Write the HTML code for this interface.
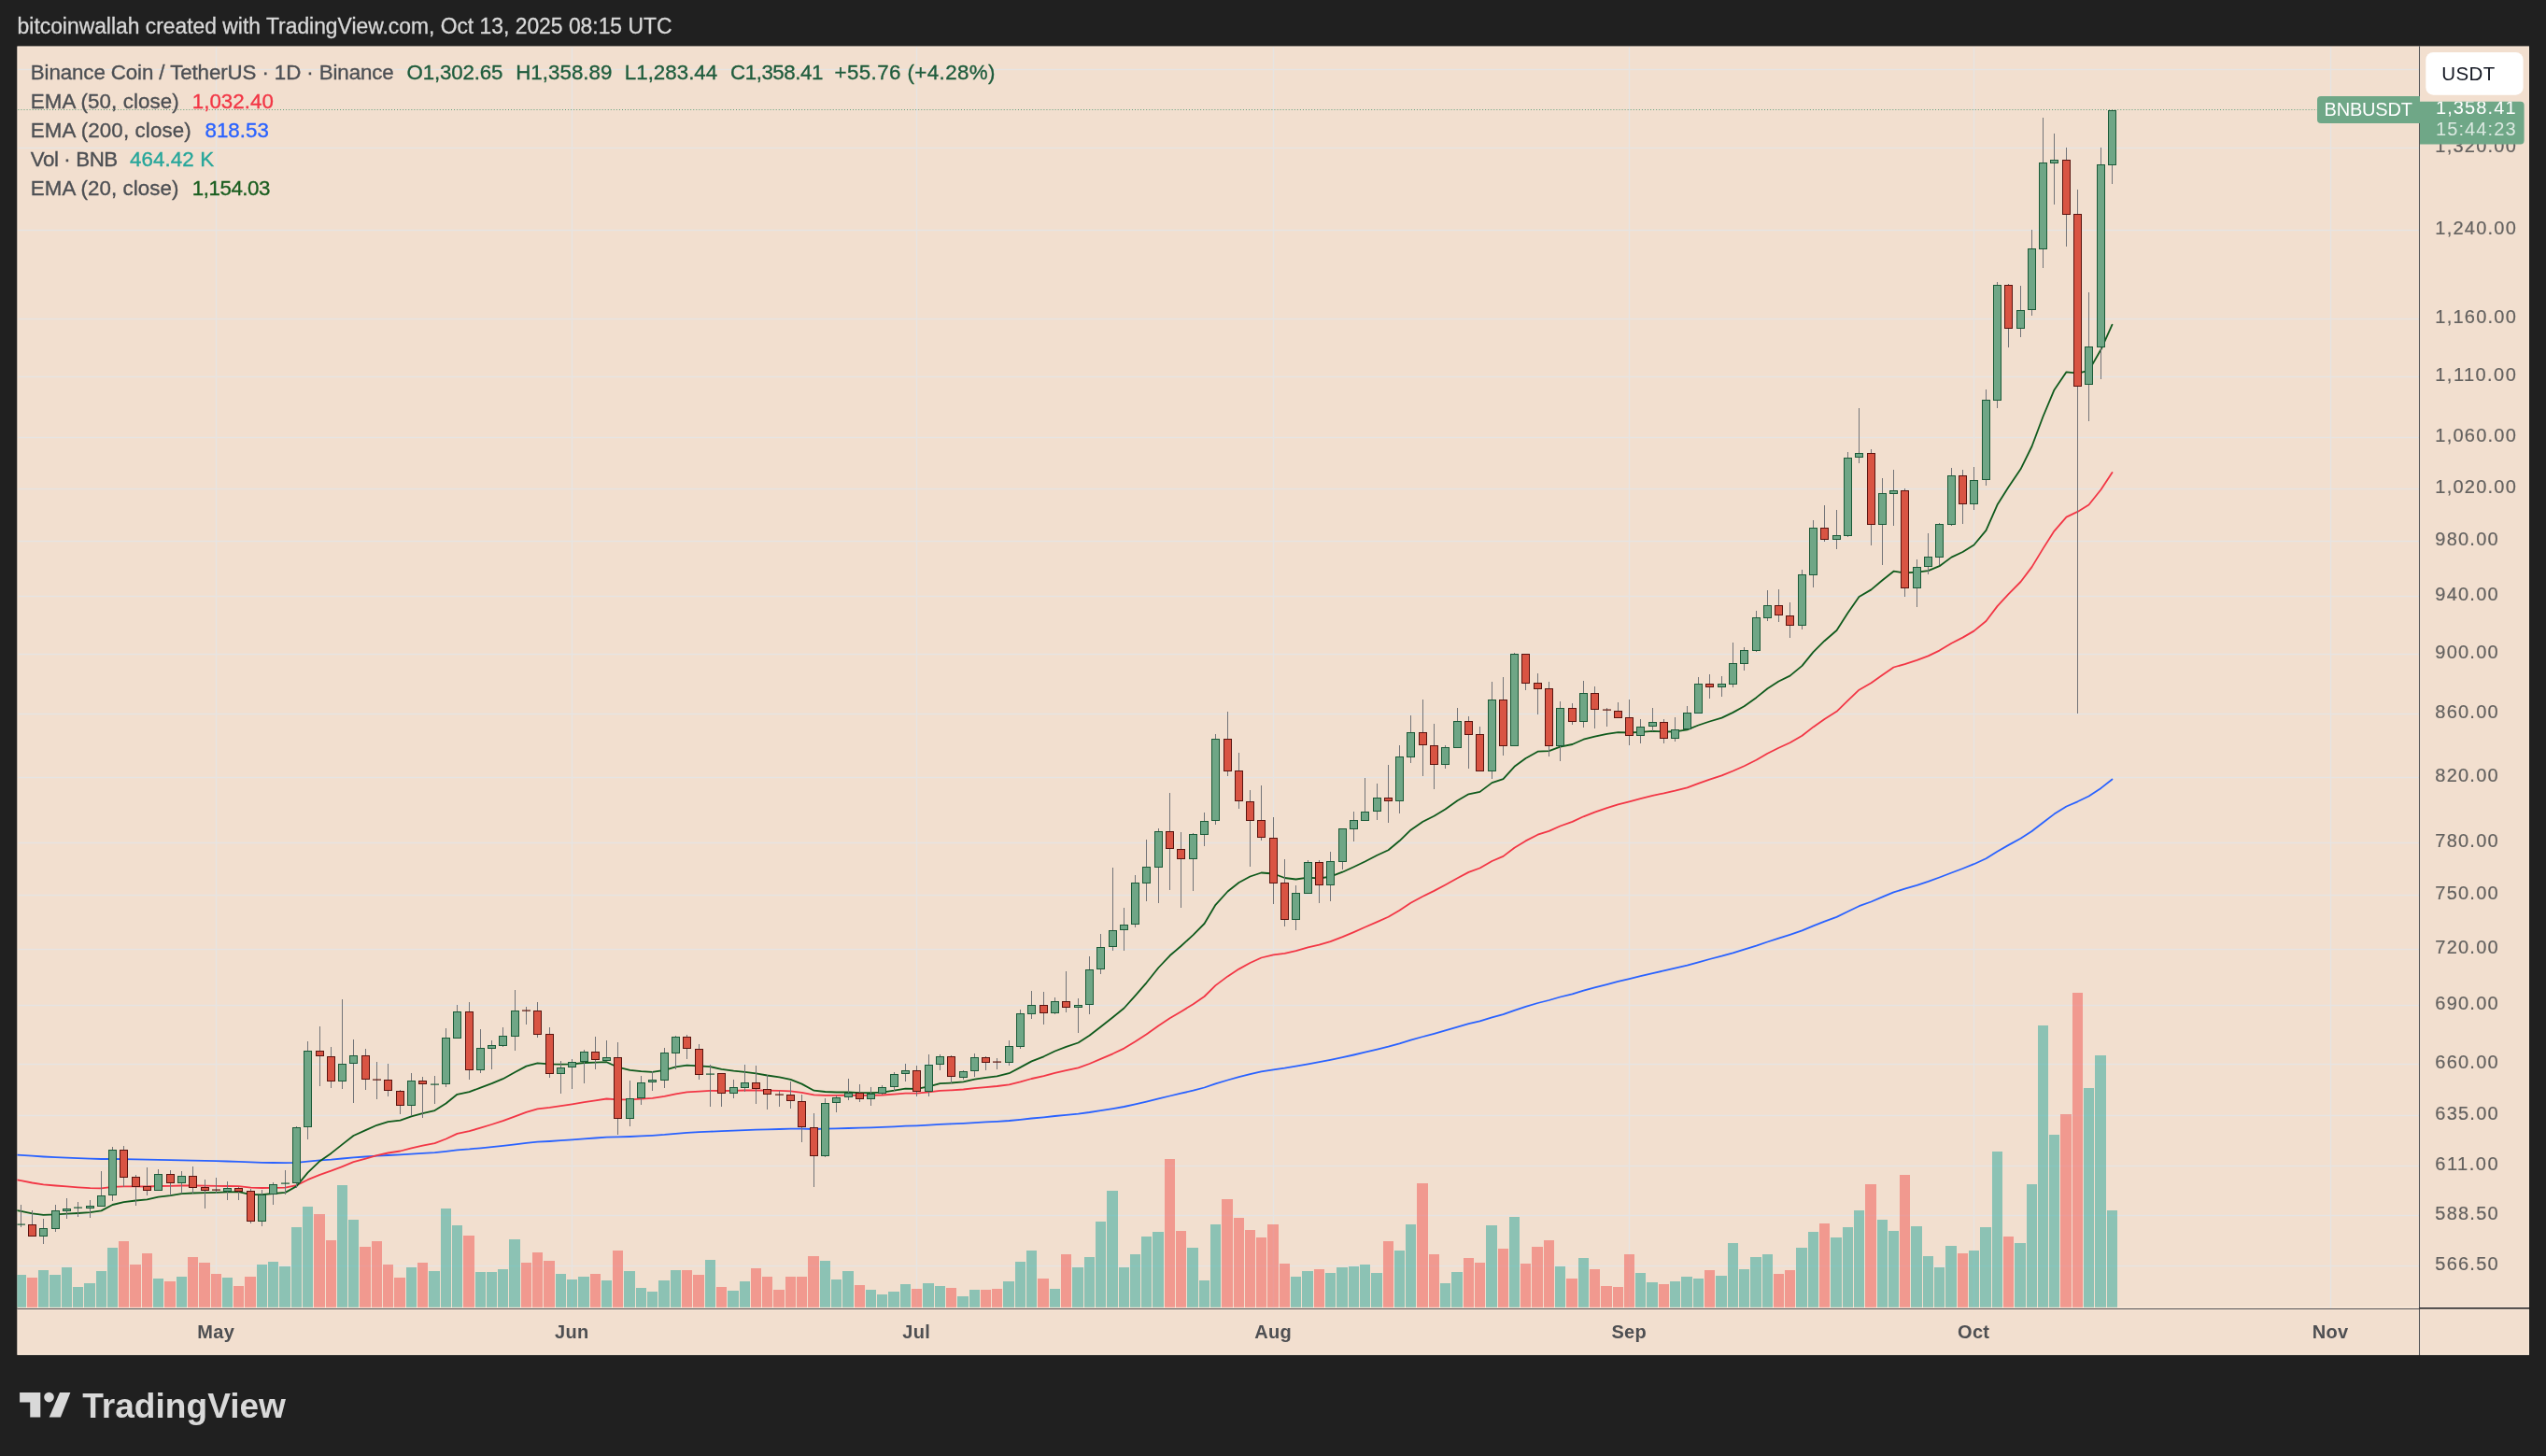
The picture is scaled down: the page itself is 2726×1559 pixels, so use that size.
<!DOCTYPE html><html><head><meta charset="utf-8"><title>BNBUSDT chart</title><style>html,body{margin:0;padding:0;background:#202020;}body{width:2726px;height:1559px;overflow:hidden}</style></head><body><svg width="2726" height="1559" viewBox="0 0 2726 1559" style="display:block;will-change:transform">
<rect width="2726" height="1559" fill="#202020"/>
<g>
<text x="18.6" y="36" font-family="Liberation Sans, sans-serif" font-size="23" fill="#d8d8d8" stroke="#d8d8d8" stroke-width="0.3" textLength="700.8" lengthAdjust="spacingAndGlyphs">bitcoinwallah created with TradingView.com, Oct 13, 2025 08:15 UTC</text>
<rect x="18.4" y="49.5" width="2689.6" height="1401.4" fill="#f2dfcf"/>
<g fill="none" stroke="#f7e6d8" stroke-width="1">
<rect x="19.2" y="50.3" width="2570.5" height="1349.4"/>
<rect x="2591.5" y="50.3" width="115.7" height="1349.2"/>
<rect x="19.2" y="1402.0" width="2570.5" height="48.100000000000094"/>
<rect x="2591.5" y="1402.0" width="115.7" height="48.100000000000094"/>
</g>
<g fill="#e6e4e3">
<rect x="19.4" y="157.84" width="2570.6" height="1.32"/>
<rect x="19.4" y="245.84" width="2570.6" height="1.32"/>
<rect x="19.4" y="340.84" width="2570.6" height="1.32"/>
<rect x="19.4" y="402.84" width="2570.6" height="1.32"/>
<rect x="19.4" y="467.84" width="2570.6" height="1.32"/>
<rect x="19.4" y="522.84" width="2570.6" height="1.32"/>
<rect x="19.4" y="578.84" width="2570.6" height="1.32"/>
<rect x="19.4" y="637.84" width="2570.6" height="1.32"/>
<rect x="19.4" y="699.84" width="2570.6" height="1.32"/>
<rect x="19.4" y="763.84" width="2570.6" height="1.32"/>
<rect x="19.4" y="831.84" width="2570.6" height="1.32"/>
<rect x="19.4" y="901.84" width="2570.6" height="1.32"/>
<rect x="19.4" y="957.84" width="2570.6" height="1.32"/>
<rect x="19.4" y="1015.84" width="2570.6" height="1.32"/>
<rect x="19.4" y="1075.84" width="2570.6" height="1.32"/>
<rect x="19.4" y="1138.84" width="2570.6" height="1.32"/>
<rect x="19.4" y="1193.84" width="2570.6" height="1.32"/>
<rect x="19.4" y="1247.84" width="2570.6" height="1.32"/>
<rect x="19.4" y="1300.84" width="2570.6" height="1.32"/>
<rect x="19.4" y="1354.84" width="2570.6" height="1.32"/>
<rect x="19.4" y="73.84" width="2570.6" height="1.32"/>
<rect x="230.84" y="50.5" width="1.32" height="1350.0"/>
<rect x="611.84" y="50.5" width="1.32" height="1350.0"/>
<rect x="980.84" y="50.5" width="1.32" height="1350.0"/>
<rect x="1362.84" y="50.5" width="1.32" height="1350.0"/>
<rect x="1743.84" y="50.5" width="1.32" height="1350.0"/>
<rect x="2112.84" y="50.5" width="1.32" height="1350.0"/>
<rect x="2494.84" y="50.5" width="1.32" height="1350.0"/>
</g>
<clipPath id="cp"><rect x="18.4" y="49.5" width="2572.1" height="1351.0"/></clipPath>
<g clip-path="url(#cp)">
<rect x="17.0" y="1365.0" width="11.0" height="34.8" fill="rgba(38,166,154,0.5)"/>
<rect x="29.0" y="1368.0" width="11.0" height="31.8" fill="rgba(239,83,80,0.5)"/>
<rect x="41.0" y="1360.0" width="11.0" height="39.8" fill="rgba(38,166,154,0.5)"/>
<rect x="53.0" y="1365.0" width="12.0" height="34.8" fill="rgba(38,166,154,0.5)"/>
<rect x="66.0" y="1357.0" width="11.0" height="42.8" fill="rgba(38,166,154,0.5)"/>
<rect x="78.0" y="1378.0" width="11.0" height="21.8" fill="rgba(38,166,154,0.5)"/>
<rect x="90.0" y="1374.0" width="12.0" height="25.8" fill="rgba(38,166,154,0.5)"/>
<rect x="103.0" y="1361.0" width="11.0" height="38.8" fill="rgba(38,166,154,0.5)"/>
<rect x="115.0" y="1336.0" width="11.0" height="63.8" fill="rgba(38,166,154,0.5)"/>
<rect x="127.0" y="1329.0" width="11.0" height="70.8" fill="rgba(239,83,80,0.5)"/>
<rect x="139.0" y="1354.0" width="12.0" height="45.8" fill="rgba(239,83,80,0.5)"/>
<rect x="152.0" y="1342.0" width="11.0" height="57.8" fill="rgba(239,83,80,0.5)"/>
<rect x="164.0" y="1369.0" width="11.0" height="30.8" fill="rgba(38,166,154,0.5)"/>
<rect x="176.0" y="1372.0" width="12.0" height="27.8" fill="rgba(239,83,80,0.5)"/>
<rect x="189.0" y="1367.0" width="11.0" height="32.8" fill="rgba(38,166,154,0.5)"/>
<rect x="201.0" y="1346.0" width="11.0" height="53.8" fill="rgba(239,83,80,0.5)"/>
<rect x="213.0" y="1352.0" width="12.0" height="47.8" fill="rgba(239,83,80,0.5)"/>
<rect x="226.0" y="1364.0" width="11.0" height="35.8" fill="rgba(239,83,80,0.5)"/>
<rect x="238.0" y="1368.0" width="11.0" height="31.8" fill="rgba(38,166,154,0.5)"/>
<rect x="250.0" y="1377.0" width="11.0" height="22.8" fill="rgba(239,83,80,0.5)"/>
<rect x="262.0" y="1367.0" width="12.0" height="32.8" fill="rgba(239,83,80,0.5)"/>
<rect x="275.0" y="1354.0" width="11.0" height="45.8" fill="rgba(38,166,154,0.5)"/>
<rect x="287.0" y="1351.0" width="11.0" height="48.8" fill="rgba(38,166,154,0.5)"/>
<rect x="299.0" y="1356.0" width="12.0" height="43.8" fill="rgba(38,166,154,0.5)"/>
<rect x="312.0" y="1314.0" width="11.0" height="85.8" fill="rgba(38,166,154,0.5)"/>
<rect x="324.0" y="1292.0" width="11.0" height="107.8" fill="rgba(38,166,154,0.5)"/>
<rect x="336.0" y="1300.0" width="12.0" height="99.8" fill="rgba(239,83,80,0.5)"/>
<rect x="349.0" y="1328.0" width="11.0" height="71.8" fill="rgba(239,83,80,0.5)"/>
<rect x="361.0" y="1269.0" width="11.0" height="130.8" fill="rgba(38,166,154,0.5)"/>
<rect x="373.0" y="1306.0" width="11.0" height="93.8" fill="rgba(38,166,154,0.5)"/>
<rect x="385.0" y="1335.0" width="12.0" height="64.8" fill="rgba(239,83,80,0.5)"/>
<rect x="398.0" y="1329.0" width="11.0" height="70.8" fill="rgba(239,83,80,0.5)"/>
<rect x="410.0" y="1354.0" width="11.0" height="45.8" fill="rgba(239,83,80,0.5)"/>
<rect x="422.0" y="1368.0" width="12.0" height="31.8" fill="rgba(239,83,80,0.5)"/>
<rect x="435.0" y="1357.0" width="11.0" height="42.8" fill="rgba(38,166,154,0.5)"/>
<rect x="447.0" y="1352.0" width="11.0" height="47.8" fill="rgba(239,83,80,0.5)"/>
<rect x="459.0" y="1361.0" width="12.0" height="38.8" fill="rgba(38,166,154,0.5)"/>
<rect x="472.0" y="1294.0" width="11.0" height="105.8" fill="rgba(38,166,154,0.5)"/>
<rect x="484.0" y="1312.0" width="11.0" height="87.8" fill="rgba(38,166,154,0.5)"/>
<rect x="496.0" y="1323.0" width="12.0" height="76.8" fill="rgba(239,83,80,0.5)"/>
<rect x="509.0" y="1362.0" width="11.0" height="37.8" fill="rgba(38,166,154,0.5)"/>
<rect x="521.0" y="1362.0" width="11.0" height="37.8" fill="rgba(38,166,154,0.5)"/>
<rect x="533.0" y="1359.0" width="11.0" height="40.8" fill="rgba(38,166,154,0.5)"/>
<rect x="545.0" y="1327.0" width="12.0" height="72.8" fill="rgba(38,166,154,0.5)"/>
<rect x="558.0" y="1352.0" width="11.0" height="47.8" fill="rgba(239,83,80,0.5)"/>
<rect x="570.0" y="1341.0" width="11.0" height="58.8" fill="rgba(239,83,80,0.5)"/>
<rect x="582.0" y="1350.0" width="12.0" height="49.8" fill="rgba(239,83,80,0.5)"/>
<rect x="595.0" y="1364.0" width="11.0" height="35.8" fill="rgba(38,166,154,0.5)"/>
<rect x="607.0" y="1370.0" width="11.0" height="29.8" fill="rgba(38,166,154,0.5)"/>
<rect x="619.0" y="1367.0" width="12.0" height="32.8" fill="rgba(38,166,154,0.5)"/>
<rect x="632.0" y="1364.0" width="11.0" height="35.8" fill="rgba(239,83,80,0.5)"/>
<rect x="644.0" y="1371.0" width="11.0" height="28.8" fill="rgba(38,166,154,0.5)"/>
<rect x="656.0" y="1339.0" width="11.0" height="60.8" fill="rgba(239,83,80,0.5)"/>
<rect x="668.0" y="1361.0" width="12.0" height="38.8" fill="rgba(38,166,154,0.5)"/>
<rect x="681.0" y="1379.0" width="11.0" height="20.8" fill="rgba(38,166,154,0.5)"/>
<rect x="693.0" y="1383.0" width="11.0" height="16.8" fill="rgba(38,166,154,0.5)"/>
<rect x="705.0" y="1371.0" width="12.0" height="28.8" fill="rgba(38,166,154,0.5)"/>
<rect x="718.0" y="1360.0" width="11.0" height="39.8" fill="rgba(38,166,154,0.5)"/>
<rect x="730.0" y="1360.0" width="11.0" height="39.8" fill="rgba(239,83,80,0.5)"/>
<rect x="742.0" y="1365.0" width="12.0" height="34.8" fill="rgba(239,83,80,0.5)"/>
<rect x="755.0" y="1349.0" width="11.0" height="50.8" fill="rgba(38,166,154,0.5)"/>
<rect x="767.0" y="1378.0" width="11.0" height="21.8" fill="rgba(239,83,80,0.5)"/>
<rect x="779.0" y="1382.0" width="12.0" height="17.8" fill="rgba(38,166,154,0.5)"/>
<rect x="792.0" y="1372.0" width="11.0" height="27.8" fill="rgba(38,166,154,0.5)"/>
<rect x="804.0" y="1358.0" width="11.0" height="41.8" fill="rgba(239,83,80,0.5)"/>
<rect x="816.0" y="1367.0" width="11.0" height="32.8" fill="rgba(239,83,80,0.5)"/>
<rect x="828.0" y="1381.0" width="12.0" height="18.8" fill="rgba(239,83,80,0.5)"/>
<rect x="841.0" y="1367.0" width="11.0" height="32.8" fill="rgba(239,83,80,0.5)"/>
<rect x="853.0" y="1367.0" width="11.0" height="32.8" fill="rgba(239,83,80,0.5)"/>
<rect x="865.0" y="1345.0" width="12.0" height="54.8" fill="rgba(239,83,80,0.5)"/>
<rect x="878.0" y="1350.0" width="11.0" height="49.8" fill="rgba(38,166,154,0.5)"/>
<rect x="890.0" y="1370.0" width="11.0" height="29.8" fill="rgba(38,166,154,0.5)"/>
<rect x="902.0" y="1361.0" width="12.0" height="38.8" fill="rgba(38,166,154,0.5)"/>
<rect x="915.0" y="1376.0" width="11.0" height="23.8" fill="rgba(239,83,80,0.5)"/>
<rect x="927.0" y="1381.0" width="11.0" height="18.8" fill="rgba(38,166,154,0.5)"/>
<rect x="939.0" y="1386.0" width="11.0" height="13.8" fill="rgba(38,166,154,0.5)"/>
<rect x="951.0" y="1383.0" width="12.0" height="16.8" fill="rgba(38,166,154,0.5)"/>
<rect x="964.0" y="1375.0" width="11.0" height="24.8" fill="rgba(38,166,154,0.5)"/>
<rect x="976.0" y="1380.0" width="11.0" height="19.8" fill="rgba(239,83,80,0.5)"/>
<rect x="988.0" y="1374.0" width="12.0" height="25.8" fill="rgba(38,166,154,0.5)"/>
<rect x="1001.0" y="1377.0" width="11.0" height="22.8" fill="rgba(38,166,154,0.5)"/>
<rect x="1013.0" y="1379.0" width="11.0" height="20.8" fill="rgba(239,83,80,0.5)"/>
<rect x="1025.0" y="1388.0" width="12.0" height="11.8" fill="rgba(38,166,154,0.5)"/>
<rect x="1038.0" y="1381.0" width="11.0" height="18.8" fill="rgba(38,166,154,0.5)"/>
<rect x="1050.0" y="1381.0" width="11.0" height="18.8" fill="rgba(239,83,80,0.5)"/>
<rect x="1062.0" y="1380.0" width="11.0" height="19.8" fill="rgba(239,83,80,0.5)"/>
<rect x="1074.0" y="1372.0" width="12.0" height="27.8" fill="rgba(38,166,154,0.5)"/>
<rect x="1087.0" y="1351.0" width="11.0" height="48.8" fill="rgba(38,166,154,0.5)"/>
<rect x="1099.0" y="1339.0" width="11.0" height="60.8" fill="rgba(38,166,154,0.5)"/>
<rect x="1111.0" y="1369.0" width="12.0" height="30.8" fill="rgba(239,83,80,0.5)"/>
<rect x="1124.0" y="1380.0" width="11.0" height="19.8" fill="rgba(38,166,154,0.5)"/>
<rect x="1136.0" y="1343.0" width="11.0" height="56.8" fill="rgba(239,83,80,0.5)"/>
<rect x="1148.0" y="1357.0" width="12.0" height="42.8" fill="rgba(38,166,154,0.5)"/>
<rect x="1161.0" y="1346.0" width="11.0" height="53.8" fill="rgba(38,166,154,0.5)"/>
<rect x="1173.0" y="1308.0" width="11.0" height="91.8" fill="rgba(38,166,154,0.5)"/>
<rect x="1185.0" y="1275.0" width="12.0" height="124.8" fill="rgba(38,166,154,0.5)"/>
<rect x="1198.0" y="1357.0" width="11.0" height="42.8" fill="rgba(38,166,154,0.5)"/>
<rect x="1210.0" y="1343.0" width="11.0" height="56.8" fill="rgba(38,166,154,0.5)"/>
<rect x="1222.0" y="1324.0" width="11.0" height="75.8" fill="rgba(38,166,154,0.5)"/>
<rect x="1234.0" y="1319.0" width="12.0" height="80.8" fill="rgba(38,166,154,0.5)"/>
<rect x="1247.0" y="1241.0" width="11.0" height="158.8" fill="rgba(239,83,80,0.5)"/>
<rect x="1259.0" y="1318.0" width="11.0" height="81.8" fill="rgba(239,83,80,0.5)"/>
<rect x="1271.0" y="1336.0" width="12.0" height="63.8" fill="rgba(38,166,154,0.5)"/>
<rect x="1284.0" y="1371.0" width="11.0" height="28.8" fill="rgba(38,166,154,0.5)"/>
<rect x="1296.0" y="1311.0" width="11.0" height="88.8" fill="rgba(38,166,154,0.5)"/>
<rect x="1308.0" y="1284.0" width="12.0" height="115.8" fill="rgba(239,83,80,0.5)"/>
<rect x="1321.0" y="1304.0" width="11.0" height="95.8" fill="rgba(239,83,80,0.5)"/>
<rect x="1333.0" y="1317.0" width="11.0" height="82.8" fill="rgba(239,83,80,0.5)"/>
<rect x="1345.0" y="1325.0" width="11.0" height="74.8" fill="rgba(239,83,80,0.5)"/>
<rect x="1357.0" y="1311.0" width="12.0" height="88.8" fill="rgba(239,83,80,0.5)"/>
<rect x="1370.0" y="1353.0" width="11.0" height="46.8" fill="rgba(239,83,80,0.5)"/>
<rect x="1382.0" y="1367.0" width="11.0" height="32.8" fill="rgba(38,166,154,0.5)"/>
<rect x="1394.0" y="1361.0" width="12.0" height="38.8" fill="rgba(38,166,154,0.5)"/>
<rect x="1407.0" y="1359.0" width="11.0" height="40.8" fill="rgba(239,83,80,0.5)"/>
<rect x="1419.0" y="1363.0" width="11.0" height="36.8" fill="rgba(38,166,154,0.5)"/>
<rect x="1431.0" y="1357.0" width="12.0" height="42.8" fill="rgba(38,166,154,0.5)"/>
<rect x="1444.0" y="1356.0" width="11.0" height="43.8" fill="rgba(38,166,154,0.5)"/>
<rect x="1456.0" y="1354.0" width="11.0" height="45.8" fill="rgba(38,166,154,0.5)"/>
<rect x="1468.0" y="1363.0" width="12.0" height="36.8" fill="rgba(38,166,154,0.5)"/>
<rect x="1481.0" y="1329.0" width="11.0" height="70.8" fill="rgba(239,83,80,0.5)"/>
<rect x="1493.0" y="1339.0" width="11.0" height="60.8" fill="rgba(38,166,154,0.5)"/>
<rect x="1505.0" y="1311.0" width="11.0" height="88.8" fill="rgba(38,166,154,0.5)"/>
<rect x="1517.0" y="1267.0" width="12.0" height="132.8" fill="rgba(239,83,80,0.5)"/>
<rect x="1530.0" y="1343.0" width="11.0" height="56.8" fill="rgba(239,83,80,0.5)"/>
<rect x="1542.0" y="1374.0" width="11.0" height="25.8" fill="rgba(38,166,154,0.5)"/>
<rect x="1554.0" y="1362.0" width="12.0" height="37.8" fill="rgba(38,166,154,0.5)"/>
<rect x="1567.0" y="1347.0" width="11.0" height="52.8" fill="rgba(239,83,80,0.5)"/>
<rect x="1579.0" y="1352.0" width="11.0" height="47.8" fill="rgba(239,83,80,0.5)"/>
<rect x="1591.0" y="1312.0" width="12.0" height="87.8" fill="rgba(38,166,154,0.5)"/>
<rect x="1604.0" y="1337.0" width="11.0" height="62.8" fill="rgba(239,83,80,0.5)"/>
<rect x="1616.0" y="1303.0" width="11.0" height="96.8" fill="rgba(38,166,154,0.5)"/>
<rect x="1628.0" y="1353.0" width="11.0" height="46.8" fill="rgba(239,83,80,0.5)"/>
<rect x="1640.0" y="1335.0" width="12.0" height="64.8" fill="rgba(239,83,80,0.5)"/>
<rect x="1653.0" y="1328.0" width="11.0" height="71.8" fill="rgba(239,83,80,0.5)"/>
<rect x="1665.0" y="1356.0" width="11.0" height="43.8" fill="rgba(38,166,154,0.5)"/>
<rect x="1677.0" y="1369.0" width="12.0" height="30.8" fill="rgba(239,83,80,0.5)"/>
<rect x="1690.0" y="1347.0" width="11.0" height="52.8" fill="rgba(38,166,154,0.5)"/>
<rect x="1702.0" y="1359.0" width="11.0" height="40.8" fill="rgba(239,83,80,0.5)"/>
<rect x="1714.0" y="1377.0" width="12.0" height="22.8" fill="rgba(239,83,80,0.5)"/>
<rect x="1727.0" y="1378.0" width="11.0" height="21.8" fill="rgba(239,83,80,0.5)"/>
<rect x="1739.0" y="1343.0" width="11.0" height="56.8" fill="rgba(239,83,80,0.5)"/>
<rect x="1751.0" y="1363.0" width="11.0" height="36.8" fill="rgba(38,166,154,0.5)"/>
<rect x="1763.0" y="1373.0" width="12.0" height="26.8" fill="rgba(38,166,154,0.5)"/>
<rect x="1776.0" y="1375.0" width="11.0" height="24.8" fill="rgba(239,83,80,0.5)"/>
<rect x="1788.0" y="1372.0" width="11.0" height="27.8" fill="rgba(38,166,154,0.5)"/>
<rect x="1800.0" y="1367.0" width="12.0" height="32.8" fill="rgba(38,166,154,0.5)"/>
<rect x="1813.0" y="1369.0" width="11.0" height="30.8" fill="rgba(38,166,154,0.5)"/>
<rect x="1825.0" y="1360.0" width="11.0" height="39.8" fill="rgba(239,83,80,0.5)"/>
<rect x="1837.0" y="1366.0" width="12.0" height="33.8" fill="rgba(38,166,154,0.5)"/>
<rect x="1850.0" y="1331.0" width="11.0" height="68.8" fill="rgba(38,166,154,0.5)"/>
<rect x="1862.0" y="1359.0" width="11.0" height="40.8" fill="rgba(38,166,154,0.5)"/>
<rect x="1874.0" y="1346.0" width="12.0" height="53.8" fill="rgba(38,166,154,0.5)"/>
<rect x="1887.0" y="1343.0" width="11.0" height="56.8" fill="rgba(38,166,154,0.5)"/>
<rect x="1899.0" y="1364.0" width="11.0" height="35.8" fill="rgba(239,83,80,0.5)"/>
<rect x="1911.0" y="1360.0" width="11.0" height="39.8" fill="rgba(239,83,80,0.5)"/>
<rect x="1923.0" y="1336.0" width="12.0" height="63.8" fill="rgba(38,166,154,0.5)"/>
<rect x="1936.0" y="1319.0" width="11.0" height="80.8" fill="rgba(38,166,154,0.5)"/>
<rect x="1948.0" y="1310.0" width="11.0" height="89.8" fill="rgba(239,83,80,0.5)"/>
<rect x="1960.0" y="1325.0" width="12.0" height="74.8" fill="rgba(38,166,154,0.5)"/>
<rect x="1973.0" y="1314.0" width="11.0" height="85.8" fill="rgba(38,166,154,0.5)"/>
<rect x="1985.0" y="1296.0" width="11.0" height="103.8" fill="rgba(38,166,154,0.5)"/>
<rect x="1997.0" y="1268.0" width="12.0" height="131.8" fill="rgba(239,83,80,0.5)"/>
<rect x="2010.0" y="1306.0" width="11.0" height="93.8" fill="rgba(38,166,154,0.5)"/>
<rect x="2022.0" y="1318.0" width="11.0" height="81.8" fill="rgba(38,166,154,0.5)"/>
<rect x="2034.0" y="1258.0" width="11.0" height="141.8" fill="rgba(239,83,80,0.5)"/>
<rect x="2046.0" y="1313.0" width="12.0" height="86.8" fill="rgba(38,166,154,0.5)"/>
<rect x="2059.0" y="1345.0" width="11.0" height="54.8" fill="rgba(38,166,154,0.5)"/>
<rect x="2071.0" y="1357.0" width="11.0" height="42.8" fill="rgba(38,166,154,0.5)"/>
<rect x="2083.0" y="1334.0" width="12.0" height="65.8" fill="rgba(38,166,154,0.5)"/>
<rect x="2096.0" y="1342.0" width="11.0" height="57.8" fill="rgba(239,83,80,0.5)"/>
<rect x="2108.0" y="1339.0" width="11.0" height="60.8" fill="rgba(38,166,154,0.5)"/>
<rect x="2120.0" y="1314.0" width="12.0" height="85.8" fill="rgba(38,166,154,0.5)"/>
<rect x="2133.0" y="1233.0" width="11.0" height="166.8" fill="rgba(38,166,154,0.5)"/>
<rect x="2145.0" y="1324.0" width="11.0" height="75.8" fill="rgba(239,83,80,0.5)"/>
<rect x="2157.0" y="1331.0" width="12.0" height="68.8" fill="rgba(38,166,154,0.5)"/>
<rect x="2170.0" y="1268.0" width="11.0" height="131.8" fill="rgba(38,166,154,0.5)"/>
<rect x="2182.0" y="1098.0" width="11.0" height="301.8" fill="rgba(38,166,154,0.5)"/>
<rect x="2194.0" y="1215.0" width="11.0" height="184.8" fill="rgba(38,166,154,0.5)"/>
<rect x="2206.0" y="1193.0" width="12.0" height="206.8" fill="rgba(239,83,80,0.5)"/>
<rect x="2219.0" y="1063.0" width="11.0" height="336.8" fill="rgba(239,83,80,0.5)"/>
<rect x="2231.0" y="1165.0" width="11.0" height="234.8" fill="rgba(38,166,154,0.5)"/>
<rect x="2243.0" y="1130.0" width="12.0" height="269.8" fill="rgba(38,166,154,0.5)"/>
<rect x="2256.0" y="1296.0" width="11.0" height="103.8" fill="rgba(38,166,154,0.5)"/>
<polyline fill="none" stroke="#2962ff" stroke-width="1.8" stroke-linejoin="round" stroke-linecap="round" points="18.4,1236.6 22.5,1236.9 34.5,1237.7 46.5,1238.5 59.5,1239.1 71.5,1239.6 83.5,1240.1 96.5,1240.6 108.5,1241.0 120.5,1240.9 132.5,1241.1 145.5,1241.4 157.5,1241.7 169.5,1241.9 182.5,1242.1 194.5,1242.3 206.5,1242.6 219.5,1242.9 231.5,1243.2 243.5,1243.5 255.5,1243.8 268.5,1244.4 280.5,1244.8 292.5,1245.0 305.5,1245.2 317.5,1244.8 329.5,1243.6 342.5,1242.4 354.5,1241.6 366.5,1240.5 378.5,1239.4 391.5,1238.5 403.5,1237.7 415.5,1237.0 428.5,1236.4 440.5,1235.6 452.5,1234.9 465.5,1234.1 477.5,1232.8 489.5,1231.3 502.5,1230.4 514.5,1229.3 526.5,1228.1 538.5,1226.9 551.5,1225.4 563.5,1223.9 575.5,1222.7 588.5,1222.0 600.5,1221.1 612.5,1220.3 625.5,1219.3 637.5,1218.5 649.5,1217.6 661.5,1217.4 674.5,1217.0 686.5,1216.4 698.5,1215.8 711.5,1214.9 723.5,1213.8 735.5,1212.9 748.5,1212.2 760.5,1211.6 772.5,1211.2 785.5,1210.7 797.5,1210.2 809.5,1209.7 821.5,1209.4 834.5,1209.0 846.5,1208.7 858.5,1208.7 871.5,1209.0 883.5,1208.7 895.5,1208.4 908.5,1208.0 920.5,1207.7 932.5,1207.3 944.5,1206.8 957.5,1206.3 969.5,1205.7 981.5,1205.3 994.5,1204.6 1006.5,1203.9 1018.5,1203.4 1031.5,1202.8 1043.5,1202.1 1055.5,1201.4 1067.5,1200.8 1080.5,1200.0 1092.5,1198.8 1104.5,1197.5 1117.5,1196.3 1129.5,1195.0 1141.5,1193.8 1154.5,1192.6 1166.5,1191.0 1178.5,1189.1 1191.5,1187.1 1203.5,1185.0 1215.5,1182.4 1227.5,1179.6 1240.5,1176.4 1252.5,1173.5 1264.5,1170.7 1277.5,1167.7 1289.5,1164.5 1301.5,1160.3 1314.5,1156.5 1326.5,1153.2 1338.5,1150.2 1350.5,1147.4 1363.5,1145.3 1375.5,1143.6 1387.5,1141.6 1400.5,1139.3 1412.5,1137.2 1424.5,1134.9 1437.5,1132.2 1449.5,1129.5 1461.5,1126.6 1474.5,1123.6 1486.5,1120.7 1498.5,1117.3 1510.5,1113.6 1523.5,1110.0 1535.5,1106.8 1547.5,1103.4 1560.5,1099.7 1572.5,1096.2 1584.5,1093.3 1597.5,1089.4 1609.5,1086.2 1621.5,1081.8 1633.5,1077.8 1646.5,1074.0 1658.5,1071.0 1670.5,1067.5 1683.5,1064.3 1695.5,1060.7 1707.5,1057.4 1720.5,1054.1 1732.5,1050.9 1744.5,1048.1 1756.5,1045.1 1769.5,1042.1 1781.5,1039.4 1793.5,1036.6 1806.5,1033.6 1818.5,1030.3 1830.5,1027.0 1843.5,1023.7 1855.5,1020.3 1867.5,1016.6 1880.5,1012.6 1892.5,1008.5 1904.5,1004.6 1916.5,1000.8 1929.5,996.4 1941.5,991.4 1953.5,986.6 1966.5,981.9 1978.5,976.0 1990.5,970.2 2003.5,965.5 2015.5,960.4 2027.5,955.4 2039.5,951.7 2052.5,947.8 2064.5,943.9 2076.5,939.5 2089.5,934.5 2101.5,930.0 2113.5,925.2 2126.5,919.3 2138.5,911.7 2150.5,904.9 2163.5,897.8 2175.5,890.0 2187.5,880.7 2199.5,871.6 2212.5,863.5 2224.5,858.3 2236.5,852.5 2249.5,843.9 2261.5,834.5"/>
<polyline fill="none" stroke="#f23645" stroke-width="1.8" stroke-linejoin="round" stroke-linecap="round" points="18.4,1263.4 22.5,1264.2 34.5,1266.5 46.5,1268.4 59.5,1269.5 71.5,1270.4 83.5,1271.3 96.5,1272.1 108.5,1272.4 120.5,1270.8 132.5,1270.4 145.5,1270.4 157.5,1270.5 169.5,1270.0 182.5,1269.9 194.5,1269.5 206.5,1269.5 219.5,1269.7 231.5,1269.9 243.5,1270.0 255.5,1270.2 268.5,1271.7 280.5,1272.0 292.5,1271.8 305.5,1271.7 317.5,1269.1 329.5,1263.2 342.5,1257.8 354.5,1253.7 366.5,1249.1 378.5,1244.2 391.5,1240.6 403.5,1237.2 415.5,1234.5 428.5,1232.5 440.5,1229.4 452.5,1226.7 465.5,1224.1 477.5,1219.5 489.5,1213.9 502.5,1211.2 514.5,1207.6 526.5,1204.0 538.5,1200.2 551.5,1195.4 563.5,1190.8 575.5,1187.4 588.5,1185.9 600.5,1184.2 612.5,1182.3 625.5,1180.1 637.5,1178.3 649.5,1176.5 661.5,1177.3 674.5,1177.3 686.5,1176.6 698.5,1175.8 711.5,1173.9 723.5,1171.3 735.5,1169.4 748.5,1168.7 760.5,1167.9 772.5,1168.0 785.5,1167.9 797.5,1167.5 809.5,1167.5 821.5,1167.7 834.5,1167.8 846.5,1168.3 858.5,1169.8 871.5,1172.4 883.5,1172.8 895.5,1172.9 908.5,1172.7 920.5,1172.9 932.5,1172.8 944.5,1172.5 957.5,1171.6 969.5,1170.6 981.5,1170.6 994.5,1169.4 1006.5,1167.9 1018.5,1167.3 1031.5,1166.5 1043.5,1165.2 1055.5,1164.1 1067.5,1163.0 1080.5,1161.3 1092.5,1158.3 1104.5,1155.0 1117.5,1152.1 1129.5,1148.9 1141.5,1146.1 1154.5,1143.3 1166.5,1139.0 1178.5,1133.9 1191.5,1128.3 1203.5,1122.6 1215.5,1115.2 1227.5,1107.4 1240.5,1098.2 1252.5,1090.3 1264.5,1083.2 1277.5,1075.2 1289.5,1067.0 1301.5,1055.1 1314.5,1045.4 1326.5,1037.6 1338.5,1031.0 1350.5,1025.5 1363.5,1022.3 1375.5,1020.8 1387.5,1018.2 1400.5,1014.4 1412.5,1011.7 1424.5,1008.1 1437.5,1003.2 1449.5,998.1 1461.5,992.8 1474.5,987.1 1486.5,981.8 1498.5,974.7 1510.5,966.7 1523.5,959.7 1535.5,953.9 1547.5,947.5 1560.5,940.3 1572.5,933.9 1584.5,929.5 1597.5,922.0 1609.5,916.9 1621.5,907.8 1633.5,900.4 1646.5,893.7 1658.5,889.9 1670.5,884.5 1683.5,879.9 1695.5,874.3 1707.5,869.6 1720.5,865.2 1732.5,861.3 1744.5,858.3 1756.5,855.1 1769.5,851.8 1781.5,849.4 1793.5,846.7 1806.5,843.3 1818.5,838.8 1830.5,834.6 1843.5,830.4 1855.5,825.5 1867.5,820.2 1880.5,813.7 1892.5,806.8 1904.5,800.7 1916.5,795.3 1929.5,787.8 1941.5,778.4 1953.5,770.0 1966.5,761.8 1978.5,750.1 1990.5,738.7 2003.5,731.3 2015.5,722.8 2027.5,714.5 2039.5,711.1 2052.5,706.9 2064.5,702.4 2076.5,696.6 2089.5,688.7 2101.5,682.6 2113.5,675.6 2126.5,665.0 2138.5,649.1 2150.5,636.2 2163.5,623.0 2175.5,607.1 2187.5,587.4 2199.5,568.6 2212.5,553.6 2224.5,547.9 2236.5,540.5 2249.5,524.3 2261.5,506.0"/>
<polyline fill="none" stroke="#0f5a1c" stroke-width="1.8" stroke-linejoin="round" stroke-linecap="round" points="18.4,1296.1 22.5,1296.9 34.5,1299.4 46.5,1300.8 59.5,1300.4 71.5,1299.7 83.5,1299.0 96.5,1298.2 108.5,1296.4 120.5,1290.0 132.5,1287.2 145.5,1285.5 157.5,1284.4 169.5,1281.7 182.5,1280.2 194.5,1278.1 206.5,1277.5 219.5,1277.1 231.5,1276.8 243.5,1276.3 255.5,1276.2 268.5,1279.1 280.5,1279.1 292.5,1278.0 305.5,1276.9 317.5,1270.1 329.5,1255.6 342.5,1243.2 354.5,1234.9 366.5,1225.4 378.5,1216.0 391.5,1210.1 403.5,1204.8 415.5,1201.2 428.5,1199.6 440.5,1195.4 452.5,1192.1 465.5,1189.1 477.5,1181.5 489.5,1171.8 502.5,1169.2 514.5,1164.6 526.5,1160.2 538.5,1155.2 551.5,1148.0 563.5,1141.6 575.5,1138.3 588.5,1139.3 600.5,1139.6 612.5,1139.3 625.5,1138.0 637.5,1137.7 649.5,1137.2 661.5,1142.7 674.5,1145.9 686.5,1147.1 698.5,1147.9 711.5,1145.9 723.5,1142.4 735.5,1140.6 748.5,1141.4 760.5,1142.2 772.5,1144.8 785.5,1146.6 797.5,1147.8 809.5,1149.4 821.5,1151.5 834.5,1153.4 846.5,1155.8 858.5,1160.6 871.5,1167.7 883.5,1169.0 895.5,1169.5 908.5,1169.5 920.5,1170.2 932.5,1170.2 944.5,1169.6 957.5,1167.7 969.5,1165.6 981.5,1165.9 994.5,1163.4 1006.5,1160.2 1018.5,1159.5 1031.5,1158.3 1043.5,1155.7 1055.5,1153.9 1067.5,1152.3 1080.5,1149.2 1092.5,1142.9 1104.5,1136.4 1117.5,1131.3 1129.5,1125.5 1141.5,1120.9 1154.5,1116.5 1166.5,1108.8 1178.5,1099.5 1191.5,1089.3 1203.5,1079.5 1215.5,1066.1 1227.5,1052.3 1240.5,1036.0 1252.5,1023.3 1264.5,1013.0 1277.5,1001.1 1289.5,989.0 1301.5,968.8 1314.5,954.5 1326.5,945.0 1338.5,938.5 1350.5,934.5 1363.5,935.5 1375.5,940.0 1387.5,941.5 1400.5,939.7 1412.5,940.5 1424.5,938.7 1437.5,933.7 1449.5,928.2 1461.5,922.5 1474.5,915.8 1486.5,910.2 1498.5,900.3 1510.5,888.7 1523.5,879.7 1535.5,873.7 1547.5,866.5 1560.5,857.2 1572.5,850.3 1584.5,847.9 1597.5,838.1 1609.5,834.2 1621.5,820.8 1633.5,812.0 1646.5,804.7 1658.5,804.1 1670.5,799.7 1683.5,797.0 1695.5,791.7 1707.5,788.6 1720.5,785.8 1732.5,784.1 1744.5,784.5 1756.5,783.8 1769.5,782.8 1781.5,783.5 1793.5,783.3 1806.5,781.3 1818.5,776.5 1830.5,772.5 1843.5,768.6 1855.5,762.9 1867.5,756.3 1880.5,746.9 1892.5,737.2 1904.5,729.5 1916.5,723.6 1929.5,712.9 1941.5,698.1 1953.5,686.2 1966.5,675.0 1978.5,656.3 1990.5,639.0 2003.5,631.4 2015.5,621.2 2027.5,611.7 2039.5,613.4 2052.5,612.7 2064.5,611.1 2076.5,606.2 2089.5,596.6 2101.5,591.0 2113.5,583.5 2126.5,567.9 2138.5,540.6 2150.5,521.5 2163.5,502.3 2175.5,478.0 2187.5,446.0 2199.5,417.4 2212.5,398.3 2224.5,399.7 2236.5,396.9 2249.5,374.3 2261.5,347.7"/>
<line x1="22.5" x2="22.5" y1="1290.0" y2="1314.0" stroke="#737478" stroke-width="1"/>
<rect x="18.0" y="1310.5" width="9" height="1.2" fill="#1b5a38"/>
<line x1="34.5" x2="34.5" y1="1296.0" y2="1324.0" stroke="#737478" stroke-width="1"/>
<rect x="30.5" y="1311.5" width="8" height="12.0" fill="#d95443" stroke="#5a140f" stroke-width="1"/>
<line x1="46.5" x2="46.5" y1="1305.0" y2="1332.0" stroke="#737478" stroke-width="1"/>
<rect x="42.5" y="1315.5" width="8" height="8.0" fill="#6fa686" stroke="#1b5a38" stroke-width="1"/>
<line x1="59.5" x2="59.5" y1="1290.0" y2="1319.0" stroke="#737478" stroke-width="1"/>
<rect x="55.5" y="1296.5" width="8" height="19.0" fill="#6fa686" stroke="#1b5a38" stroke-width="1"/>
<line x1="71.5" x2="71.5" y1="1283.0" y2="1305.0" stroke="#737478" stroke-width="1"/>
<rect x="67.5" y="1294.5" width="8" height="2.0" fill="#6fa686" stroke="#1b5a38" stroke-width="1"/>
<line x1="83.5" x2="83.5" y1="1287.0" y2="1303.0" stroke="#737478" stroke-width="1"/>
<rect x="79.0" y="1292.5" width="9" height="1.2" fill="#1b5a38"/>
<line x1="96.5" x2="96.5" y1="1285.0" y2="1304.0" stroke="#737478" stroke-width="1"/>
<rect x="92.5" y="1291.5" width="8" height="2.0" fill="#6fa686" stroke="#1b5a38" stroke-width="1"/>
<line x1="108.5" x2="108.5" y1="1254.0" y2="1292.0" stroke="#737478" stroke-width="1"/>
<rect x="104.5" y="1280.5" width="8" height="11.0" fill="#6fa686" stroke="#1b5a38" stroke-width="1"/>
<line x1="120.5" x2="120.5" y1="1228.0" y2="1286.0" stroke="#737478" stroke-width="1"/>
<rect x="116.5" y="1231.5" width="8" height="48.0" fill="#6fa686" stroke="#1b5a38" stroke-width="1"/>
<line x1="132.5" x2="132.5" y1="1227.0" y2="1271.0" stroke="#737478" stroke-width="1"/>
<rect x="128.5" y="1231.5" width="8" height="29.0" fill="#d95443" stroke="#5a140f" stroke-width="1"/>
<line x1="145.5" x2="145.5" y1="1258.0" y2="1291.0" stroke="#737478" stroke-width="1"/>
<rect x="141.5" y="1260.5" width="8" height="10.0" fill="#d95443" stroke="#5a140f" stroke-width="1"/>
<line x1="157.5" x2="157.5" y1="1250.0" y2="1280.0" stroke="#737478" stroke-width="1"/>
<rect x="153.5" y="1270.5" width="8" height="4.0" fill="#d95443" stroke="#5a140f" stroke-width="1"/>
<line x1="169.5" x2="169.5" y1="1252.0" y2="1275.0" stroke="#737478" stroke-width="1"/>
<rect x="165.5" y="1257.5" width="8" height="17.0" fill="#6fa686" stroke="#1b5a38" stroke-width="1"/>
<line x1="182.5" x2="182.5" y1="1253.0" y2="1280.0" stroke="#737478" stroke-width="1"/>
<rect x="178.5" y="1257.5" width="8" height="9.0" fill="#d95443" stroke="#5a140f" stroke-width="1"/>
<line x1="194.5" x2="194.5" y1="1254.0" y2="1278.0" stroke="#737478" stroke-width="1"/>
<rect x="190.5" y="1259.5" width="8" height="7.0" fill="#6fa686" stroke="#1b5a38" stroke-width="1"/>
<line x1="206.5" x2="206.5" y1="1249.0" y2="1278.0" stroke="#737478" stroke-width="1"/>
<rect x="202.5" y="1259.5" width="8" height="12.0" fill="#d95443" stroke="#5a140f" stroke-width="1"/>
<line x1="219.5" x2="219.5" y1="1263.0" y2="1294.0" stroke="#737478" stroke-width="1"/>
<rect x="215.5" y="1271.5" width="8" height="3.0" fill="#d95443" stroke="#5a140f" stroke-width="1"/>
<line x1="231.5" x2="231.5" y1="1261.0" y2="1278.0" stroke="#737478" stroke-width="1"/>
<rect x="227.0" y="1273.5" width="9" height="1.2" fill="#5a140f"/>
<line x1="243.5" x2="243.5" y1="1265.0" y2="1285.0" stroke="#737478" stroke-width="1"/>
<rect x="239.5" y="1272.5" width="8" height="3.0" fill="#6fa686" stroke="#1b5a38" stroke-width="1"/>
<line x1="255.5" x2="255.5" y1="1271.0" y2="1285.0" stroke="#737478" stroke-width="1"/>
<rect x="251.5" y="1272.5" width="8" height="3.0" fill="#d95443" stroke="#5a140f" stroke-width="1"/>
<line x1="268.5" x2="268.5" y1="1273.0" y2="1310.0" stroke="#737478" stroke-width="1"/>
<rect x="264.5" y="1275.5" width="8" height="32.0" fill="#d95443" stroke="#5a140f" stroke-width="1"/>
<line x1="280.5" x2="280.5" y1="1274.0" y2="1313.0" stroke="#737478" stroke-width="1"/>
<rect x="276.5" y="1279.5" width="8" height="28.0" fill="#6fa686" stroke="#1b5a38" stroke-width="1"/>
<line x1="292.5" x2="292.5" y1="1266.0" y2="1290.0" stroke="#737478" stroke-width="1"/>
<rect x="288.5" y="1268.5" width="8" height="10.0" fill="#6fa686" stroke="#1b5a38" stroke-width="1"/>
<line x1="305.5" x2="305.5" y1="1253.0" y2="1279.0" stroke="#737478" stroke-width="1"/>
<rect x="301.0" y="1266.5" width="9" height="1.2" fill="#1b5a38"/>
<line x1="317.5" x2="317.5" y1="1206.0" y2="1272.0" stroke="#737478" stroke-width="1"/>
<rect x="313.5" y="1207.5" width="8" height="59.0" fill="#6fa686" stroke="#1b5a38" stroke-width="1"/>
<line x1="329.5" x2="329.5" y1="1115.0" y2="1220.0" stroke="#737478" stroke-width="1"/>
<rect x="325.5" y="1125.5" width="8" height="81.0" fill="#6fa686" stroke="#1b5a38" stroke-width="1"/>
<line x1="342.5" x2="342.5" y1="1099.0" y2="1163.0" stroke="#737478" stroke-width="1"/>
<rect x="338.5" y="1125.5" width="8" height="5.0" fill="#d95443" stroke="#5a140f" stroke-width="1"/>
<line x1="354.5" x2="354.5" y1="1121.0" y2="1165.0" stroke="#737478" stroke-width="1"/>
<rect x="350.5" y="1131.5" width="8" height="26.0" fill="#d95443" stroke="#5a140f" stroke-width="1"/>
<line x1="366.5" x2="366.5" y1="1070.0" y2="1166.0" stroke="#737478" stroke-width="1"/>
<rect x="362.5" y="1139.5" width="8" height="18.0" fill="#6fa686" stroke="#1b5a38" stroke-width="1"/>
<line x1="378.5" x2="378.5" y1="1113.0" y2="1181.0" stroke="#737478" stroke-width="1"/>
<rect x="374.5" y="1130.5" width="8" height="8.0" fill="#6fa686" stroke="#1b5a38" stroke-width="1"/>
<line x1="391.5" x2="391.5" y1="1123.0" y2="1167.0" stroke="#737478" stroke-width="1"/>
<rect x="387.5" y="1130.5" width="8" height="25.0" fill="#d95443" stroke="#5a140f" stroke-width="1"/>
<line x1="403.5" x2="403.5" y1="1137.0" y2="1177.0" stroke="#737478" stroke-width="1"/>
<rect x="399.0" y="1155.5" width="9" height="1.2" fill="#5a140f"/>
<line x1="415.5" x2="415.5" y1="1139.0" y2="1174.0" stroke="#737478" stroke-width="1"/>
<rect x="411.5" y="1156.5" width="8" height="11.0" fill="#d95443" stroke="#5a140f" stroke-width="1"/>
<line x1="428.5" x2="428.5" y1="1167.0" y2="1193.0" stroke="#737478" stroke-width="1"/>
<rect x="424.5" y="1168.5" width="8" height="15.0" fill="#d95443" stroke="#5a140f" stroke-width="1"/>
<line x1="440.5" x2="440.5" y1="1149.0" y2="1195.0" stroke="#737478" stroke-width="1"/>
<rect x="436.5" y="1157.5" width="8" height="26.0" fill="#6fa686" stroke="#1b5a38" stroke-width="1"/>
<line x1="452.5" x2="452.5" y1="1153.0" y2="1197.0" stroke="#737478" stroke-width="1"/>
<rect x="448.5" y="1157.5" width="8" height="3.0" fill="#d95443" stroke="#5a140f" stroke-width="1"/>
<line x1="465.5" x2="465.5" y1="1152.0" y2="1182.0" stroke="#737478" stroke-width="1"/>
<rect x="461.0" y="1160.5" width="9" height="1.2" fill="#1b5a38"/>
<line x1="477.5" x2="477.5" y1="1101.0" y2="1164.0" stroke="#737478" stroke-width="1"/>
<rect x="473.5" y="1111.5" width="8" height="49.0" fill="#6fa686" stroke="#1b5a38" stroke-width="1"/>
<line x1="489.5" x2="489.5" y1="1076.0" y2="1112.0" stroke="#737478" stroke-width="1"/>
<rect x="485.5" y="1083.5" width="8" height="28.0" fill="#6fa686" stroke="#1b5a38" stroke-width="1"/>
<line x1="502.5" x2="502.5" y1="1073.0" y2="1156.0" stroke="#737478" stroke-width="1"/>
<rect x="498.5" y="1083.5" width="8" height="62.0" fill="#d95443" stroke="#5a140f" stroke-width="1"/>
<line x1="514.5" x2="514.5" y1="1102.0" y2="1149.0" stroke="#737478" stroke-width="1"/>
<rect x="510.5" y="1122.5" width="8" height="23.0" fill="#6fa686" stroke="#1b5a38" stroke-width="1"/>
<line x1="526.5" x2="526.5" y1="1114.0" y2="1145.0" stroke="#737478" stroke-width="1"/>
<rect x="522.5" y="1119.5" width="8" height="3.0" fill="#6fa686" stroke="#1b5a38" stroke-width="1"/>
<line x1="538.5" x2="538.5" y1="1100.0" y2="1121.0" stroke="#737478" stroke-width="1"/>
<rect x="534.5" y="1109.5" width="8" height="10.0" fill="#6fa686" stroke="#1b5a38" stroke-width="1"/>
<line x1="551.5" x2="551.5" y1="1060.0" y2="1125.0" stroke="#737478" stroke-width="1"/>
<rect x="547.5" y="1082.5" width="8" height="27.0" fill="#6fa686" stroke="#1b5a38" stroke-width="1"/>
<line x1="563.5" x2="563.5" y1="1078.0" y2="1097.0" stroke="#737478" stroke-width="1"/>
<rect x="559.0" y="1081.5" width="9" height="1.2" fill="#5a140f"/>
<line x1="575.5" x2="575.5" y1="1073.0" y2="1111.0" stroke="#737478" stroke-width="1"/>
<rect x="571.5" y="1082.5" width="8" height="25.0" fill="#d95443" stroke="#5a140f" stroke-width="1"/>
<line x1="588.5" x2="588.5" y1="1100.0" y2="1154.0" stroke="#737478" stroke-width="1"/>
<rect x="584.5" y="1107.5" width="8" height="42.0" fill="#d95443" stroke="#5a140f" stroke-width="1"/>
<line x1="600.5" x2="600.5" y1="1136.0" y2="1171.0" stroke="#737478" stroke-width="1"/>
<rect x="596.5" y="1143.5" width="8" height="6.0" fill="#6fa686" stroke="#1b5a38" stroke-width="1"/>
<line x1="612.5" x2="612.5" y1="1134.0" y2="1166.0" stroke="#737478" stroke-width="1"/>
<rect x="608.5" y="1137.5" width="8" height="5.0" fill="#6fa686" stroke="#1b5a38" stroke-width="1"/>
<line x1="625.5" x2="625.5" y1="1124.0" y2="1160.0" stroke="#737478" stroke-width="1"/>
<rect x="621.5" y="1126.5" width="8" height="10.0" fill="#6fa686" stroke="#1b5a38" stroke-width="1"/>
<line x1="637.5" x2="637.5" y1="1110.0" y2="1145.0" stroke="#737478" stroke-width="1"/>
<rect x="633.5" y="1126.5" width="8" height="8.0" fill="#d95443" stroke="#5a140f" stroke-width="1"/>
<line x1="649.5" x2="649.5" y1="1114.0" y2="1136.0" stroke="#737478" stroke-width="1"/>
<rect x="645.5" y="1132.5" width="8" height="3.0" fill="#6fa686" stroke="#1b5a38" stroke-width="1"/>
<line x1="661.5" x2="661.5" y1="1116.0" y2="1215.0" stroke="#737478" stroke-width="1"/>
<rect x="657.5" y="1132.5" width="8" height="65.0" fill="#d95443" stroke="#5a140f" stroke-width="1"/>
<line x1="674.5" x2="674.5" y1="1157.0" y2="1206.0" stroke="#737478" stroke-width="1"/>
<rect x="670.5" y="1176.5" width="8" height="21.0" fill="#6fa686" stroke="#1b5a38" stroke-width="1"/>
<line x1="686.5" x2="686.5" y1="1152.0" y2="1183.0" stroke="#737478" stroke-width="1"/>
<rect x="682.5" y="1159.5" width="8" height="16.0" fill="#6fa686" stroke="#1b5a38" stroke-width="1"/>
<line x1="698.5" x2="698.5" y1="1147.0" y2="1168.0" stroke="#737478" stroke-width="1"/>
<rect x="694.5" y="1156.5" width="8" height="2.0" fill="#6fa686" stroke="#1b5a38" stroke-width="1"/>
<line x1="711.5" x2="711.5" y1="1122.0" y2="1165.0" stroke="#737478" stroke-width="1"/>
<rect x="707.5" y="1127.5" width="8" height="29.0" fill="#6fa686" stroke="#1b5a38" stroke-width="1"/>
<line x1="723.5" x2="723.5" y1="1109.0" y2="1145.0" stroke="#737478" stroke-width="1"/>
<rect x="719.5" y="1110.5" width="8" height="17.0" fill="#6fa686" stroke="#1b5a38" stroke-width="1"/>
<line x1="735.5" x2="735.5" y1="1108.0" y2="1134.0" stroke="#737478" stroke-width="1"/>
<rect x="731.5" y="1110.5" width="8" height="12.0" fill="#d95443" stroke="#5a140f" stroke-width="1"/>
<line x1="748.5" x2="748.5" y1="1118.0" y2="1156.0" stroke="#737478" stroke-width="1"/>
<rect x="744.5" y="1123.5" width="8" height="27.0" fill="#d95443" stroke="#5a140f" stroke-width="1"/>
<line x1="760.5" x2="760.5" y1="1140.0" y2="1185.0" stroke="#737478" stroke-width="1"/>
<rect x="756.0" y="1149.5" width="9" height="1.2" fill="#1b5a38"/>
<line x1="772.5" x2="772.5" y1="1149.0" y2="1185.0" stroke="#737478" stroke-width="1"/>
<rect x="768.5" y="1149.5" width="8" height="21.0" fill="#d95443" stroke="#5a140f" stroke-width="1"/>
<line x1="785.5" x2="785.5" y1="1156.0" y2="1176.0" stroke="#737478" stroke-width="1"/>
<rect x="781.5" y="1164.5" width="8" height="6.0" fill="#6fa686" stroke="#1b5a38" stroke-width="1"/>
<line x1="797.5" x2="797.5" y1="1140.0" y2="1169.0" stroke="#737478" stroke-width="1"/>
<rect x="793.5" y="1159.5" width="8" height="5.0" fill="#6fa686" stroke="#1b5a38" stroke-width="1"/>
<line x1="809.5" x2="809.5" y1="1141.0" y2="1182.0" stroke="#737478" stroke-width="1"/>
<rect x="805.5" y="1159.5" width="8" height="6.0" fill="#d95443" stroke="#5a140f" stroke-width="1"/>
<line x1="821.5" x2="821.5" y1="1151.0" y2="1188.0" stroke="#737478" stroke-width="1"/>
<rect x="817.5" y="1166.5" width="8" height="5.0" fill="#d95443" stroke="#5a140f" stroke-width="1"/>
<line x1="834.5" x2="834.5" y1="1168.0" y2="1185.0" stroke="#737478" stroke-width="1"/>
<rect x="830.0" y="1171.5" width="9" height="1.2" fill="#5a140f"/>
<line x1="846.5" x2="846.5" y1="1158.0" y2="1187.0" stroke="#737478" stroke-width="1"/>
<rect x="842.5" y="1172.5" width="8" height="6.0" fill="#d95443" stroke="#5a140f" stroke-width="1"/>
<line x1="858.5" x2="858.5" y1="1172.0" y2="1223.0" stroke="#737478" stroke-width="1"/>
<rect x="854.5" y="1179.5" width="8" height="27.0" fill="#d95443" stroke="#5a140f" stroke-width="1"/>
<line x1="871.5" x2="871.5" y1="1192.0" y2="1271.0" stroke="#737478" stroke-width="1"/>
<rect x="867.5" y="1207.5" width="8" height="30.0" fill="#d95443" stroke="#5a140f" stroke-width="1"/>
<line x1="883.5" x2="883.5" y1="1176.0" y2="1239.0" stroke="#737478" stroke-width="1"/>
<rect x="879.5" y="1181.5" width="8" height="56.0" fill="#6fa686" stroke="#1b5a38" stroke-width="1"/>
<line x1="895.5" x2="895.5" y1="1173.0" y2="1191.0" stroke="#737478" stroke-width="1"/>
<rect x="891.5" y="1175.5" width="8" height="5.0" fill="#6fa686" stroke="#1b5a38" stroke-width="1"/>
<line x1="908.5" x2="908.5" y1="1155.0" y2="1178.0" stroke="#737478" stroke-width="1"/>
<rect x="904.5" y="1170.5" width="8" height="4.0" fill="#6fa686" stroke="#1b5a38" stroke-width="1"/>
<line x1="920.5" x2="920.5" y1="1161.0" y2="1180.0" stroke="#737478" stroke-width="1"/>
<rect x="916.5" y="1170.5" width="8" height="6.0" fill="#d95443" stroke="#5a140f" stroke-width="1"/>
<line x1="932.5" x2="932.5" y1="1164.0" y2="1184.0" stroke="#737478" stroke-width="1"/>
<rect x="928.5" y="1171.5" width="8" height="5.0" fill="#6fa686" stroke="#1b5a38" stroke-width="1"/>
<line x1="944.5" x2="944.5" y1="1162.0" y2="1172.0" stroke="#737478" stroke-width="1"/>
<rect x="940.5" y="1164.5" width="8" height="6.0" fill="#6fa686" stroke="#1b5a38" stroke-width="1"/>
<line x1="957.5" x2="957.5" y1="1148.0" y2="1168.0" stroke="#737478" stroke-width="1"/>
<rect x="953.5" y="1150.5" width="8" height="13.0" fill="#6fa686" stroke="#1b5a38" stroke-width="1"/>
<line x1="969.5" x2="969.5" y1="1139.0" y2="1158.0" stroke="#737478" stroke-width="1"/>
<rect x="965.5" y="1146.5" width="8" height="3.0" fill="#6fa686" stroke="#1b5a38" stroke-width="1"/>
<line x1="981.5" x2="981.5" y1="1141.0" y2="1174.0" stroke="#737478" stroke-width="1"/>
<rect x="977.5" y="1146.5" width="8" height="22.0" fill="#d95443" stroke="#5a140f" stroke-width="1"/>
<line x1="994.5" x2="994.5" y1="1129.0" y2="1174.0" stroke="#737478" stroke-width="1"/>
<rect x="990.5" y="1140.5" width="8" height="28.0" fill="#6fa686" stroke="#1b5a38" stroke-width="1"/>
<line x1="1006.5" x2="1006.5" y1="1129.0" y2="1146.0" stroke="#737478" stroke-width="1"/>
<rect x="1002.5" y="1131.5" width="8" height="8.0" fill="#6fa686" stroke="#1b5a38" stroke-width="1"/>
<line x1="1018.5" x2="1018.5" y1="1130.0" y2="1160.0" stroke="#737478" stroke-width="1"/>
<rect x="1014.5" y="1131.5" width="8" height="21.0" fill="#d95443" stroke="#5a140f" stroke-width="1"/>
<line x1="1031.5" x2="1031.5" y1="1146.0" y2="1156.0" stroke="#737478" stroke-width="1"/>
<rect x="1027.5" y="1147.5" width="8" height="6.0" fill="#6fa686" stroke="#1b5a38" stroke-width="1"/>
<line x1="1043.5" x2="1043.5" y1="1128.0" y2="1153.0" stroke="#737478" stroke-width="1"/>
<rect x="1039.5" y="1132.5" width="8" height="14.0" fill="#6fa686" stroke="#1b5a38" stroke-width="1"/>
<line x1="1055.5" x2="1055.5" y1="1131.0" y2="1146.0" stroke="#737478" stroke-width="1"/>
<rect x="1051.5" y="1132.5" width="8" height="5.0" fill="#d95443" stroke="#5a140f" stroke-width="1"/>
<line x1="1067.5" x2="1067.5" y1="1133.0" y2="1145.0" stroke="#737478" stroke-width="1"/>
<rect x="1063.0" y="1136.5" width="9" height="1.2" fill="#5a140f"/>
<line x1="1080.5" x2="1080.5" y1="1114.0" y2="1141.0" stroke="#737478" stroke-width="1"/>
<rect x="1076.5" y="1120.5" width="8" height="17.0" fill="#6fa686" stroke="#1b5a38" stroke-width="1"/>
<line x1="1092.5" x2="1092.5" y1="1081.0" y2="1123.0" stroke="#737478" stroke-width="1"/>
<rect x="1088.5" y="1085.5" width="8" height="35.0" fill="#6fa686" stroke="#1b5a38" stroke-width="1"/>
<line x1="1104.5" x2="1104.5" y1="1061.0" y2="1091.0" stroke="#737478" stroke-width="1"/>
<rect x="1100.5" y="1076.5" width="8" height="9.0" fill="#6fa686" stroke="#1b5a38" stroke-width="1"/>
<line x1="1117.5" x2="1117.5" y1="1062.0" y2="1097.0" stroke="#737478" stroke-width="1"/>
<rect x="1113.5" y="1076.5" width="8" height="8.0" fill="#d95443" stroke="#5a140f" stroke-width="1"/>
<line x1="1129.5" x2="1129.5" y1="1068.0" y2="1086.0" stroke="#737478" stroke-width="1"/>
<rect x="1125.5" y="1072.5" width="8" height="12.0" fill="#6fa686" stroke="#1b5a38" stroke-width="1"/>
<line x1="1141.5" x2="1141.5" y1="1040.0" y2="1084.0" stroke="#737478" stroke-width="1"/>
<rect x="1137.5" y="1072.5" width="8" height="6.0" fill="#d95443" stroke="#5a140f" stroke-width="1"/>
<line x1="1154.5" x2="1154.5" y1="1069.0" y2="1106.0" stroke="#737478" stroke-width="1"/>
<rect x="1150.5" y="1076.5" width="8" height="2.0" fill="#6fa686" stroke="#1b5a38" stroke-width="1"/>
<line x1="1166.5" x2="1166.5" y1="1024.0" y2="1086.0" stroke="#737478" stroke-width="1"/>
<rect x="1162.5" y="1038.5" width="8" height="37.0" fill="#6fa686" stroke="#1b5a38" stroke-width="1"/>
<line x1="1178.5" x2="1178.5" y1="1000.0" y2="1043.0" stroke="#737478" stroke-width="1"/>
<rect x="1174.5" y="1014.5" width="8" height="23.0" fill="#6fa686" stroke="#1b5a38" stroke-width="1"/>
<line x1="1191.5" x2="1191.5" y1="929.0" y2="1018.0" stroke="#737478" stroke-width="1"/>
<rect x="1187.5" y="996.5" width="8" height="17.0" fill="#6fa686" stroke="#1b5a38" stroke-width="1"/>
<line x1="1203.5" x2="1203.5" y1="972.0" y2="1018.0" stroke="#737478" stroke-width="1"/>
<rect x="1199.5" y="990.5" width="8" height="5.0" fill="#6fa686" stroke="#1b5a38" stroke-width="1"/>
<line x1="1215.5" x2="1215.5" y1="937.0" y2="993.0" stroke="#737478" stroke-width="1"/>
<rect x="1211.5" y="945.5" width="8" height="44.0" fill="#6fa686" stroke="#1b5a38" stroke-width="1"/>
<line x1="1227.5" x2="1227.5" y1="899.0" y2="965.0" stroke="#737478" stroke-width="1"/>
<rect x="1223.5" y="928.5" width="8" height="17.0" fill="#6fa686" stroke="#1b5a38" stroke-width="1"/>
<line x1="1240.5" x2="1240.5" y1="887.0" y2="967.0" stroke="#737478" stroke-width="1"/>
<rect x="1236.5" y="890.5" width="8" height="38.0" fill="#6fa686" stroke="#1b5a38" stroke-width="1"/>
<line x1="1252.5" x2="1252.5" y1="849.0" y2="953.0" stroke="#737478" stroke-width="1"/>
<rect x="1248.5" y="890.5" width="8" height="18.0" fill="#d95443" stroke="#5a140f" stroke-width="1"/>
<line x1="1264.5" x2="1264.5" y1="891.0" y2="972.0" stroke="#737478" stroke-width="1"/>
<rect x="1260.5" y="909.5" width="8" height="10.0" fill="#d95443" stroke="#5a140f" stroke-width="1"/>
<line x1="1277.5" x2="1277.5" y1="892.0" y2="954.0" stroke="#737478" stroke-width="1"/>
<rect x="1273.5" y="893.5" width="8" height="26.0" fill="#6fa686" stroke="#1b5a38" stroke-width="1"/>
<line x1="1289.5" x2="1289.5" y1="870.0" y2="906.0" stroke="#737478" stroke-width="1"/>
<rect x="1285.5" y="879.5" width="8" height="14.0" fill="#6fa686" stroke="#1b5a38" stroke-width="1"/>
<line x1="1301.5" x2="1301.5" y1="786.0" y2="883.0" stroke="#737478" stroke-width="1"/>
<rect x="1297.5" y="791.5" width="8" height="87.0" fill="#6fa686" stroke="#1b5a38" stroke-width="1"/>
<line x1="1314.5" x2="1314.5" y1="762.0" y2="831.0" stroke="#737478" stroke-width="1"/>
<rect x="1310.5" y="791.5" width="8" height="34.0" fill="#d95443" stroke="#5a140f" stroke-width="1"/>
<line x1="1326.5" x2="1326.5" y1="806.0" y2="866.0" stroke="#737478" stroke-width="1"/>
<rect x="1322.5" y="825.5" width="8" height="32.0" fill="#d95443" stroke="#5a140f" stroke-width="1"/>
<line x1="1338.5" x2="1338.5" y1="846.0" y2="928.0" stroke="#737478" stroke-width="1"/>
<rect x="1334.5" y="858.5" width="8" height="20.0" fill="#d95443" stroke="#5a140f" stroke-width="1"/>
<line x1="1350.5" x2="1350.5" y1="841.0" y2="900.0" stroke="#737478" stroke-width="1"/>
<rect x="1346.5" y="878.5" width="8" height="18.0" fill="#d95443" stroke="#5a140f" stroke-width="1"/>
<line x1="1363.5" x2="1363.5" y1="875.0" y2="968.0" stroke="#737478" stroke-width="1"/>
<rect x="1359.5" y="897.5" width="8" height="48.0" fill="#d95443" stroke="#5a140f" stroke-width="1"/>
<line x1="1375.5" x2="1375.5" y1="920.0" y2="992.0" stroke="#737478" stroke-width="1"/>
<rect x="1371.5" y="945.5" width="8" height="39.0" fill="#d95443" stroke="#5a140f" stroke-width="1"/>
<line x1="1387.5" x2="1387.5" y1="948.0" y2="996.0" stroke="#737478" stroke-width="1"/>
<rect x="1383.5" y="956.5" width="8" height="28.0" fill="#6fa686" stroke="#1b5a38" stroke-width="1"/>
<line x1="1400.5" x2="1400.5" y1="921.0" y2="957.0" stroke="#737478" stroke-width="1"/>
<rect x="1396.5" y="923.5" width="8" height="33.0" fill="#6fa686" stroke="#1b5a38" stroke-width="1"/>
<line x1="1412.5" x2="1412.5" y1="921.0" y2="967.0" stroke="#737478" stroke-width="1"/>
<rect x="1408.5" y="923.5" width="8" height="24.0" fill="#d95443" stroke="#5a140f" stroke-width="1"/>
<line x1="1424.5" x2="1424.5" y1="912.0" y2="965.0" stroke="#737478" stroke-width="1"/>
<rect x="1420.5" y="922.5" width="8" height="25.0" fill="#6fa686" stroke="#1b5a38" stroke-width="1"/>
<line x1="1437.5" x2="1437.5" y1="887.0" y2="931.0" stroke="#737478" stroke-width="1"/>
<rect x="1433.5" y="887.5" width="8" height="35.0" fill="#6fa686" stroke="#1b5a38" stroke-width="1"/>
<line x1="1449.5" x2="1449.5" y1="869.0" y2="901.0" stroke="#737478" stroke-width="1"/>
<rect x="1445.5" y="878.5" width="8" height="9.0" fill="#6fa686" stroke="#1b5a38" stroke-width="1"/>
<line x1="1461.5" x2="1461.5" y1="833.0" y2="879.0" stroke="#737478" stroke-width="1"/>
<rect x="1457.5" y="869.5" width="8" height="9.0" fill="#6fa686" stroke="#1b5a38" stroke-width="1"/>
<line x1="1474.5" x2="1474.5" y1="839.0" y2="878.0" stroke="#737478" stroke-width="1"/>
<rect x="1470.5" y="854.5" width="8" height="14.0" fill="#6fa686" stroke="#1b5a38" stroke-width="1"/>
<line x1="1486.5" x2="1486.5" y1="819.0" y2="881.0" stroke="#737478" stroke-width="1"/>
<rect x="1482.5" y="854.5" width="8" height="3.0" fill="#d95443" stroke="#5a140f" stroke-width="1"/>
<line x1="1498.5" x2="1498.5" y1="798.0" y2="871.0" stroke="#737478" stroke-width="1"/>
<rect x="1494.5" y="810.5" width="8" height="47.0" fill="#6fa686" stroke="#1b5a38" stroke-width="1"/>
<line x1="1510.5" x2="1510.5" y1="766.0" y2="817.0" stroke="#737478" stroke-width="1"/>
<rect x="1506.5" y="784.5" width="8" height="26.0" fill="#6fa686" stroke="#1b5a38" stroke-width="1"/>
<line x1="1523.5" x2="1523.5" y1="749.0" y2="831.0" stroke="#737478" stroke-width="1"/>
<rect x="1519.5" y="784.5" width="8" height="13.0" fill="#d95443" stroke="#5a140f" stroke-width="1"/>
<line x1="1535.5" x2="1535.5" y1="775.0" y2="845.0" stroke="#737478" stroke-width="1"/>
<rect x="1531.5" y="798.5" width="8" height="20.0" fill="#d95443" stroke="#5a140f" stroke-width="1"/>
<line x1="1547.5" x2="1547.5" y1="798.0" y2="823.0" stroke="#737478" stroke-width="1"/>
<rect x="1543.5" y="800.5" width="8" height="18.0" fill="#6fa686" stroke="#1b5a38" stroke-width="1"/>
<line x1="1560.5" x2="1560.5" y1="758.0" y2="801.0" stroke="#737478" stroke-width="1"/>
<rect x="1556.5" y="772.5" width="8" height="28.0" fill="#6fa686" stroke="#1b5a38" stroke-width="1"/>
<line x1="1572.5" x2="1572.5" y1="767.0" y2="823.0" stroke="#737478" stroke-width="1"/>
<rect x="1568.5" y="772.5" width="8" height="14.0" fill="#d95443" stroke="#5a140f" stroke-width="1"/>
<line x1="1584.5" x2="1584.5" y1="778.0" y2="826.0" stroke="#737478" stroke-width="1"/>
<rect x="1580.5" y="786.5" width="8" height="39.0" fill="#d95443" stroke="#5a140f" stroke-width="1"/>
<line x1="1597.5" x2="1597.5" y1="730.0" y2="834.0" stroke="#737478" stroke-width="1"/>
<rect x="1593.5" y="749.5" width="8" height="76.0" fill="#6fa686" stroke="#1b5a38" stroke-width="1"/>
<line x1="1609.5" x2="1609.5" y1="725.0" y2="809.0" stroke="#737478" stroke-width="1"/>
<rect x="1605.5" y="749.5" width="8" height="49.0" fill="#d95443" stroke="#5a140f" stroke-width="1"/>
<line x1="1621.5" x2="1621.5" y1="699.0" y2="799.0" stroke="#737478" stroke-width="1"/>
<rect x="1617.5" y="700.5" width="8" height="98.0" fill="#6fa686" stroke="#1b5a38" stroke-width="1"/>
<line x1="1633.5" x2="1633.5" y1="700.0" y2="739.0" stroke="#737478" stroke-width="1"/>
<rect x="1629.5" y="700.5" width="8" height="31.0" fill="#d95443" stroke="#5a140f" stroke-width="1"/>
<line x1="1646.5" x2="1646.5" y1="721.0" y2="765.0" stroke="#737478" stroke-width="1"/>
<rect x="1642.5" y="731.5" width="8" height="6.0" fill="#d95443" stroke="#5a140f" stroke-width="1"/>
<line x1="1658.5" x2="1658.5" y1="730.0" y2="810.0" stroke="#737478" stroke-width="1"/>
<rect x="1654.5" y="737.5" width="8" height="61.0" fill="#d95443" stroke="#5a140f" stroke-width="1"/>
<line x1="1670.5" x2="1670.5" y1="751.0" y2="815.0" stroke="#737478" stroke-width="1"/>
<rect x="1666.5" y="758.5" width="8" height="40.0" fill="#6fa686" stroke="#1b5a38" stroke-width="1"/>
<line x1="1683.5" x2="1683.5" y1="753.0" y2="776.0" stroke="#737478" stroke-width="1"/>
<rect x="1679.5" y="758.5" width="8" height="14.0" fill="#d95443" stroke="#5a140f" stroke-width="1"/>
<line x1="1695.5" x2="1695.5" y1="729.0" y2="779.0" stroke="#737478" stroke-width="1"/>
<rect x="1691.5" y="742.5" width="8" height="30.0" fill="#6fa686" stroke="#1b5a38" stroke-width="1"/>
<line x1="1707.5" x2="1707.5" y1="735.0" y2="780.0" stroke="#737478" stroke-width="1"/>
<rect x="1703.5" y="742.5" width="8" height="17.0" fill="#d95443" stroke="#5a140f" stroke-width="1"/>
<line x1="1720.5" x2="1720.5" y1="758.0" y2="778.0" stroke="#737478" stroke-width="1"/>
<rect x="1716.0" y="759.5" width="9" height="1.2" fill="#5a140f"/>
<line x1="1732.5" x2="1732.5" y1="752.0" y2="769.0" stroke="#737478" stroke-width="1"/>
<rect x="1728.5" y="761.5" width="8" height="7.0" fill="#d95443" stroke="#5a140f" stroke-width="1"/>
<line x1="1744.5" x2="1744.5" y1="749.0" y2="798.0" stroke="#737478" stroke-width="1"/>
<rect x="1740.5" y="768.5" width="8" height="19.0" fill="#d95443" stroke="#5a140f" stroke-width="1"/>
<line x1="1756.5" x2="1756.5" y1="770.0" y2="796.0" stroke="#737478" stroke-width="1"/>
<rect x="1752.5" y="778.5" width="8" height="9.0" fill="#6fa686" stroke="#1b5a38" stroke-width="1"/>
<line x1="1769.5" x2="1769.5" y1="758.0" y2="783.0" stroke="#737478" stroke-width="1"/>
<rect x="1765.5" y="773.5" width="8" height="4.0" fill="#6fa686" stroke="#1b5a38" stroke-width="1"/>
<line x1="1781.5" x2="1781.5" y1="770.0" y2="796.0" stroke="#737478" stroke-width="1"/>
<rect x="1777.5" y="773.5" width="8" height="17.0" fill="#d95443" stroke="#5a140f" stroke-width="1"/>
<line x1="1793.5" x2="1793.5" y1="768.0" y2="794.0" stroke="#737478" stroke-width="1"/>
<rect x="1789.5" y="781.5" width="8" height="9.0" fill="#6fa686" stroke="#1b5a38" stroke-width="1"/>
<line x1="1806.5" x2="1806.5" y1="756.0" y2="781.0" stroke="#737478" stroke-width="1"/>
<rect x="1802.5" y="763.5" width="8" height="17.0" fill="#6fa686" stroke="#1b5a38" stroke-width="1"/>
<line x1="1818.5" x2="1818.5" y1="725.0" y2="764.0" stroke="#737478" stroke-width="1"/>
<rect x="1814.5" y="732.5" width="8" height="31.0" fill="#6fa686" stroke="#1b5a38" stroke-width="1"/>
<line x1="1830.5" x2="1830.5" y1="722.0" y2="748.0" stroke="#737478" stroke-width="1"/>
<rect x="1826.5" y="732.5" width="8" height="3.0" fill="#d95443" stroke="#5a140f" stroke-width="1"/>
<line x1="1843.5" x2="1843.5" y1="724.0" y2="746.0" stroke="#737478" stroke-width="1"/>
<rect x="1839.5" y="732.5" width="8" height="3.0" fill="#6fa686" stroke="#1b5a38" stroke-width="1"/>
<line x1="1855.5" x2="1855.5" y1="688.0" y2="736.0" stroke="#737478" stroke-width="1"/>
<rect x="1851.5" y="710.5" width="8" height="22.0" fill="#6fa686" stroke="#1b5a38" stroke-width="1"/>
<line x1="1867.5" x2="1867.5" y1="693.0" y2="718.0" stroke="#737478" stroke-width="1"/>
<rect x="1863.5" y="696.5" width="8" height="14.0" fill="#6fa686" stroke="#1b5a38" stroke-width="1"/>
<line x1="1880.5" x2="1880.5" y1="654.0" y2="698.0" stroke="#737478" stroke-width="1"/>
<rect x="1876.5" y="661.5" width="8" height="35.0" fill="#6fa686" stroke="#1b5a38" stroke-width="1"/>
<line x1="1892.5" x2="1892.5" y1="632.0" y2="665.0" stroke="#737478" stroke-width="1"/>
<rect x="1888.5" y="648.5" width="8" height="13.0" fill="#6fa686" stroke="#1b5a38" stroke-width="1"/>
<line x1="1904.5" x2="1904.5" y1="631.0" y2="666.0" stroke="#737478" stroke-width="1"/>
<rect x="1900.5" y="648.5" width="8" height="10.0" fill="#d95443" stroke="#5a140f" stroke-width="1"/>
<line x1="1916.5" x2="1916.5" y1="645.0" y2="683.0" stroke="#737478" stroke-width="1"/>
<rect x="1912.5" y="659.5" width="8" height="10.0" fill="#d95443" stroke="#5a140f" stroke-width="1"/>
<line x1="1929.5" x2="1929.5" y1="610.0" y2="674.0" stroke="#737478" stroke-width="1"/>
<rect x="1925.5" y="615.5" width="8" height="54.0" fill="#6fa686" stroke="#1b5a38" stroke-width="1"/>
<line x1="1941.5" x2="1941.5" y1="557.0" y2="629.0" stroke="#737478" stroke-width="1"/>
<rect x="1937.5" y="565.5" width="8" height="50.0" fill="#6fa686" stroke="#1b5a38" stroke-width="1"/>
<line x1="1953.5" x2="1953.5" y1="541.0" y2="580.0" stroke="#737478" stroke-width="1"/>
<rect x="1949.5" y="565.5" width="8" height="12.0" fill="#d95443" stroke="#5a140f" stroke-width="1"/>
<line x1="1966.5" x2="1966.5" y1="546.0" y2="588.0" stroke="#737478" stroke-width="1"/>
<rect x="1962.5" y="573.5" width="8" height="4.0" fill="#6fa686" stroke="#1b5a38" stroke-width="1"/>
<line x1="1978.5" x2="1978.5" y1="484.0" y2="575.0" stroke="#737478" stroke-width="1"/>
<rect x="1974.5" y="490.5" width="8" height="83.0" fill="#6fa686" stroke="#1b5a38" stroke-width="1"/>
<line x1="1990.5" x2="1990.5" y1="437.0" y2="496.0" stroke="#737478" stroke-width="1"/>
<rect x="1986.5" y="485.5" width="8" height="4.0" fill="#6fa686" stroke="#1b5a38" stroke-width="1"/>
<line x1="2003.5" x2="2003.5" y1="481.0" y2="584.0" stroke="#737478" stroke-width="1"/>
<rect x="1999.5" y="485.5" width="8" height="76.0" fill="#d95443" stroke="#5a140f" stroke-width="1"/>
<line x1="2015.5" x2="2015.5" y1="512.0" y2="605.0" stroke="#737478" stroke-width="1"/>
<rect x="2011.5" y="528.5" width="8" height="33.0" fill="#6fa686" stroke="#1b5a38" stroke-width="1"/>
<line x1="2027.5" x2="2027.5" y1="503.0" y2="563.0" stroke="#737478" stroke-width="1"/>
<rect x="2023.5" y="525.5" width="8" height="3.0" fill="#6fa686" stroke="#1b5a38" stroke-width="1"/>
<line x1="2039.5" x2="2039.5" y1="523.0" y2="639.0" stroke="#737478" stroke-width="1"/>
<rect x="2035.5" y="525.5" width="8" height="104.0" fill="#d95443" stroke="#5a140f" stroke-width="1"/>
<line x1="2052.5" x2="2052.5" y1="599.0" y2="650.0" stroke="#737478" stroke-width="1"/>
<rect x="2048.5" y="607.5" width="8" height="22.0" fill="#6fa686" stroke="#1b5a38" stroke-width="1"/>
<line x1="2064.5" x2="2064.5" y1="571.0" y2="615.0" stroke="#737478" stroke-width="1"/>
<rect x="2060.5" y="596.5" width="8" height="10.0" fill="#6fa686" stroke="#1b5a38" stroke-width="1"/>
<line x1="2076.5" x2="2076.5" y1="560.0" y2="605.0" stroke="#737478" stroke-width="1"/>
<rect x="2072.5" y="561.5" width="8" height="35.0" fill="#6fa686" stroke="#1b5a38" stroke-width="1"/>
<line x1="2089.5" x2="2089.5" y1="501.0" y2="563.0" stroke="#737478" stroke-width="1"/>
<rect x="2085.5" y="509.5" width="8" height="52.0" fill="#6fa686" stroke="#1b5a38" stroke-width="1"/>
<line x1="2101.5" x2="2101.5" y1="503.0" y2="561.0" stroke="#737478" stroke-width="1"/>
<rect x="2097.5" y="509.5" width="8" height="30.0" fill="#d95443" stroke="#5a140f" stroke-width="1"/>
<line x1="2113.5" x2="2113.5" y1="500.0" y2="546.0" stroke="#737478" stroke-width="1"/>
<rect x="2109.5" y="514.5" width="8" height="25.0" fill="#6fa686" stroke="#1b5a38" stroke-width="1"/>
<line x1="2126.5" x2="2126.5" y1="417.0" y2="520.0" stroke="#737478" stroke-width="1"/>
<rect x="2122.5" y="428.5" width="8" height="85.0" fill="#6fa686" stroke="#1b5a38" stroke-width="1"/>
<line x1="2138.5" x2="2138.5" y1="302.0" y2="437.0" stroke="#737478" stroke-width="1"/>
<rect x="2134.5" y="305.5" width="8" height="123.0" fill="#6fa686" stroke="#1b5a38" stroke-width="1"/>
<line x1="2150.5" x2="2150.5" y1="304.0" y2="372.0" stroke="#737478" stroke-width="1"/>
<rect x="2146.5" y="305.5" width="8" height="46.0" fill="#d95443" stroke="#5a140f" stroke-width="1"/>
<line x1="2163.5" x2="2163.5" y1="306.0" y2="361.0" stroke="#737478" stroke-width="1"/>
<rect x="2159.5" y="332.5" width="8" height="19.0" fill="#6fa686" stroke="#1b5a38" stroke-width="1"/>
<line x1="2175.5" x2="2175.5" y1="246.0" y2="338.0" stroke="#737478" stroke-width="1"/>
<rect x="2171.5" y="266.5" width="8" height="65.0" fill="#6fa686" stroke="#1b5a38" stroke-width="1"/>
<line x1="2187.5" x2="2187.5" y1="126.0" y2="287.0" stroke="#737478" stroke-width="1"/>
<rect x="2183.5" y="174.5" width="8" height="92.0" fill="#6fa686" stroke="#1b5a38" stroke-width="1"/>
<line x1="2199.5" x2="2199.5" y1="143.0" y2="219.0" stroke="#737478" stroke-width="1"/>
<rect x="2195.5" y="171.5" width="8" height="3.0" fill="#6fa686" stroke="#1b5a38" stroke-width="1"/>
<line x1="2212.5" x2="2212.5" y1="158.0" y2="264.0" stroke="#737478" stroke-width="1"/>
<rect x="2208.5" y="171.5" width="8" height="58.0" fill="#d95443" stroke="#5a140f" stroke-width="1"/>
<line x1="2224.5" x2="2224.5" y1="203.0" y2="764.0" stroke="#737478" stroke-width="1"/>
<rect x="2220.5" y="229.5" width="8" height="184.0" fill="#d95443" stroke="#5a140f" stroke-width="1"/>
<line x1="2236.5" x2="2236.5" y1="313.0" y2="451.0" stroke="#737478" stroke-width="1"/>
<rect x="2232.5" y="371.5" width="8" height="40.0" fill="#6fa686" stroke="#1b5a38" stroke-width="1"/>
<line x1="2249.5" x2="2249.5" y1="158.0" y2="406.0" stroke="#737478" stroke-width="1"/>
<rect x="2245.5" y="176.5" width="8" height="195.0" fill="#6fa686" stroke="#1b5a38" stroke-width="1"/>
<line x1="2261.5" x2="2261.5" y1="117.0" y2="197.0" stroke="#737478" stroke-width="1"/>
<rect x="2257.5" y="118.5" width="8" height="58.0" fill="#6fa686" stroke="#1b5a38" stroke-width="1"/>
</g>
<line x1="19.4" x2="2481" y1="117.5" y2="117.5" stroke="#5f9e7c" stroke-width="1" stroke-dasharray="1 2.05"/>
<line x1="2590.5" x2="2590.5" y1="49.5" y2="1450.9" stroke="#555557" stroke-width="1.1"/>
<line x1="18.4" x2="2590.5" y1="1401.5" y2="1401.5" stroke="#555557" stroke-width="1.1"/>
<line x1="2590.5" x2="2708" y1="1400.8" y2="1400.8" stroke="#1c1c20" stroke-width="1.6"/>
<g font-family="Liberation Sans, sans-serif" font-size="20" fill="#63615f" stroke="#63615f" stroke-width="0.2">
<text x="2607.3" y="163.3" textLength="86.5" lengthAdjust="spacing">1,320.00</text>
<text x="2607.3" y="251.3" textLength="86.5" lengthAdjust="spacing">1,240.00</text>
<text x="2607.3" y="346.3" textLength="86.5" lengthAdjust="spacing">1,160.00</text>
<text x="2607.3" y="408.3" textLength="86.5" lengthAdjust="spacing">1,110.00</text>
<text x="2607.3" y="473.3" textLength="86.5" lengthAdjust="spacing">1,060.00</text>
<text x="2607.3" y="528.3" textLength="86.5" lengthAdjust="spacing">1,020.00</text>
<text x="2607.3" y="584.3" textLength="67.3" lengthAdjust="spacing">980.00</text>
<text x="2607.3" y="643.3" textLength="67.3" lengthAdjust="spacing">940.00</text>
<text x="2607.3" y="705.3" textLength="67.3" lengthAdjust="spacing">900.00</text>
<text x="2607.3" y="769.3" textLength="67.3" lengthAdjust="spacing">860.00</text>
<text x="2607.3" y="837.3" textLength="67.3" lengthAdjust="spacing">820.00</text>
<text x="2607.3" y="907.3" textLength="67.3" lengthAdjust="spacing">780.00</text>
<text x="2607.3" y="963.3" textLength="67.3" lengthAdjust="spacing">750.00</text>
<text x="2607.3" y="1021.3" textLength="67.3" lengthAdjust="spacing">720.00</text>
<text x="2607.3" y="1081.3" textLength="67.3" lengthAdjust="spacing">690.00</text>
<text x="2607.3" y="1144.3" textLength="67.3" lengthAdjust="spacing">660.00</text>
<text x="2607.3" y="1199.3" textLength="67.3" lengthAdjust="spacing">635.00</text>
<text x="2607.3" y="1253.3" textLength="67.3" lengthAdjust="spacing">611.00</text>
<text x="2607.3" y="1306.3" textLength="67.3" lengthAdjust="spacing">588.50</text>
<text x="2607.3" y="1360.3" textLength="67.3" lengthAdjust="spacing">566.50</text>
</g>
<path d="M2485,103 H2591 V132 H2485 a4,4 0 0 1 -4,-4 V107 a4,4 0 0 1 4,-4 Z" fill="#6fa787"/>
<text x="2488.5" y="123.9" font-family="Liberation Sans, sans-serif" font-size="20" fill="#ffffff" textLength="94.5" lengthAdjust="spacing">BNBUSDT</text>
<path d="M2591,108.8 H2698.6 a4,4 0 0 1 4,4 V150.6 a4,4 0 0 1 -4,4 H2591 Z" fill="#6fa787"/>
<clipPath id="pl"><rect x="2591" y="108.8" width="112" height="46"/></clipPath>
<text clip-path="url(#pl)" x="2608" y="122.2" font-family="Liberation Sans, sans-serif" font-size="20" fill="#ffffff" textLength="85.5" lengthAdjust="spacing">1,358.41</text>
<text x="2608" y="145.2" font-family="Liberation Sans, sans-serif" font-size="20" fill="#ffffff" fill-opacity="0.75" textLength="85.5" lengthAdjust="spacing">15:44:23</text>
<rect x="2597.3" y="56" width="104.3" height="45.7" rx="8" fill="#ffffff"/>
<text x="2614.3" y="86.3" font-family="Liberation Sans, sans-serif" font-size="20.5" fill="#131722" textLength="57" lengthAdjust="spacing">USDT</text>
<g font-family="Liberation Sans, sans-serif" font-size="20" font-weight="bold" fill="#4e4f52" text-anchor="middle" letter-spacing="0.3">
<text x="231.2" y="1433">May</text>
<text x="612.2" y="1433">Jun</text>
<text x="981.2" y="1433">Jul</text>
<text x="1363.2" y="1433">Aug</text>
<text x="1744.2" y="1433">Sep</text>
<text x="2113.2" y="1433">Oct</text>
<text x="2495.2" y="1433">Nov</text>
</g>
<text x="32.8" y="84.8" font-family="Liberation Sans, sans-serif" font-size="22.3" fill="#4d4f53" stroke="#4d4f53" stroke-width="0.35" textLength="388.9" lengthAdjust="spacing">Binance Coin / TetherUS · 1D · Binance</text>
<text x="435.5" y="84.8" font-family="Liberation Sans, sans-serif" font-size="22.3" fill="#1f5c3c" stroke="#1f5c3c" stroke-width="0.35" textLength="102.9" lengthAdjust="spacing">O1,302.65</text>
<text x="552.2" y="84.8" font-family="Liberation Sans, sans-serif" font-size="22.3" fill="#1f5c3c" stroke="#1f5c3c" stroke-width="0.35" textLength="103.2" lengthAdjust="spacing">H1,358.89</text>
<text x="668.8" y="84.8" font-family="Liberation Sans, sans-serif" font-size="22.3" fill="#1f5c3c" stroke="#1f5c3c" stroke-width="0.35" textLength="99.4" lengthAdjust="spacing">L1,283.44</text>
<text x="782" y="84.8" font-family="Liberation Sans, sans-serif" font-size="22.3" fill="#1f5c3c" stroke="#1f5c3c" stroke-width="0.35" textLength="99.4" lengthAdjust="spacing">C1,358.41</text>
<text x="893.5" y="84.8" font-family="Liberation Sans, sans-serif" font-size="22.3" fill="#1f5c3c" stroke="#1f5c3c" stroke-width="0.35" textLength="172" lengthAdjust="spacing">+55.76 (+4.28%)</text>
<text x="32.8" y="115.9" font-family="Liberation Sans, sans-serif" font-size="22.3" fill="#4d4f53" stroke="#4d4f53" stroke-width="0.35" textLength="159" lengthAdjust="spacing">EMA (50, close)</text>
<text x="205.7" y="115.9" font-family="Liberation Sans, sans-serif" font-size="22.3" fill="#f23645" stroke="#f23645" stroke-width="0.35" textLength="87.2" lengthAdjust="spacing">1,032.40</text>
<text x="32.8" y="147.0" font-family="Liberation Sans, sans-serif" font-size="22.3" fill="#4d4f53" stroke="#4d4f53" stroke-width="0.35" textLength="172" lengthAdjust="spacing">EMA (200, close)</text>
<text x="219.5" y="147.0" font-family="Liberation Sans, sans-serif" font-size="22.3" fill="#2962ff" stroke="#2962ff" stroke-width="0.35" textLength="68.3" lengthAdjust="spacing">818.53</text>
<text x="32.8" y="178.1" font-family="Liberation Sans, sans-serif" font-size="22.3" fill="#4d4f53" stroke="#4d4f53" stroke-width="0.35" textLength="93.4" lengthAdjust="spacing">Vol · BNB</text>
<text x="139.1" y="178.1" font-family="Liberation Sans, sans-serif" font-size="22.3" fill="#26a69a" stroke="#26a69a" stroke-width="0.35" textLength="89.9" lengthAdjust="spacing">464.42 K</text>
<text x="32.8" y="209.2" font-family="Liberation Sans, sans-serif" font-size="22.3" fill="#4d4f53" stroke="#4d4f53" stroke-width="0.35" textLength="158.6" lengthAdjust="spacing">EMA (20, close)</text>
<text x="205.7" y="209.2" font-family="Liberation Sans, sans-serif" font-size="22.3" fill="#1b5e20" stroke="#1b5e20" stroke-width="0.35" textLength="83.8" lengthAdjust="spacing">1,154.03</text>
<g fill="#d9d9d9">
<path d="M21.1,1491 H43.3 V1517.5 H32.25 V1501.6 H21.1 Z"/>
<circle cx="52.5" cy="1496.1" r="5.3"/>
<path d="M64.05,1491 H75.4 L64.9,1517.5 H52.7 Z"/>
<text x="88.2" y="1517.5" font-family="Liberation Sans, sans-serif" font-size="37" font-weight="bold" textLength="217.8" lengthAdjust="spacingAndGlyphs">TradingView</text>
</g>
</g>
</svg></body></html>
